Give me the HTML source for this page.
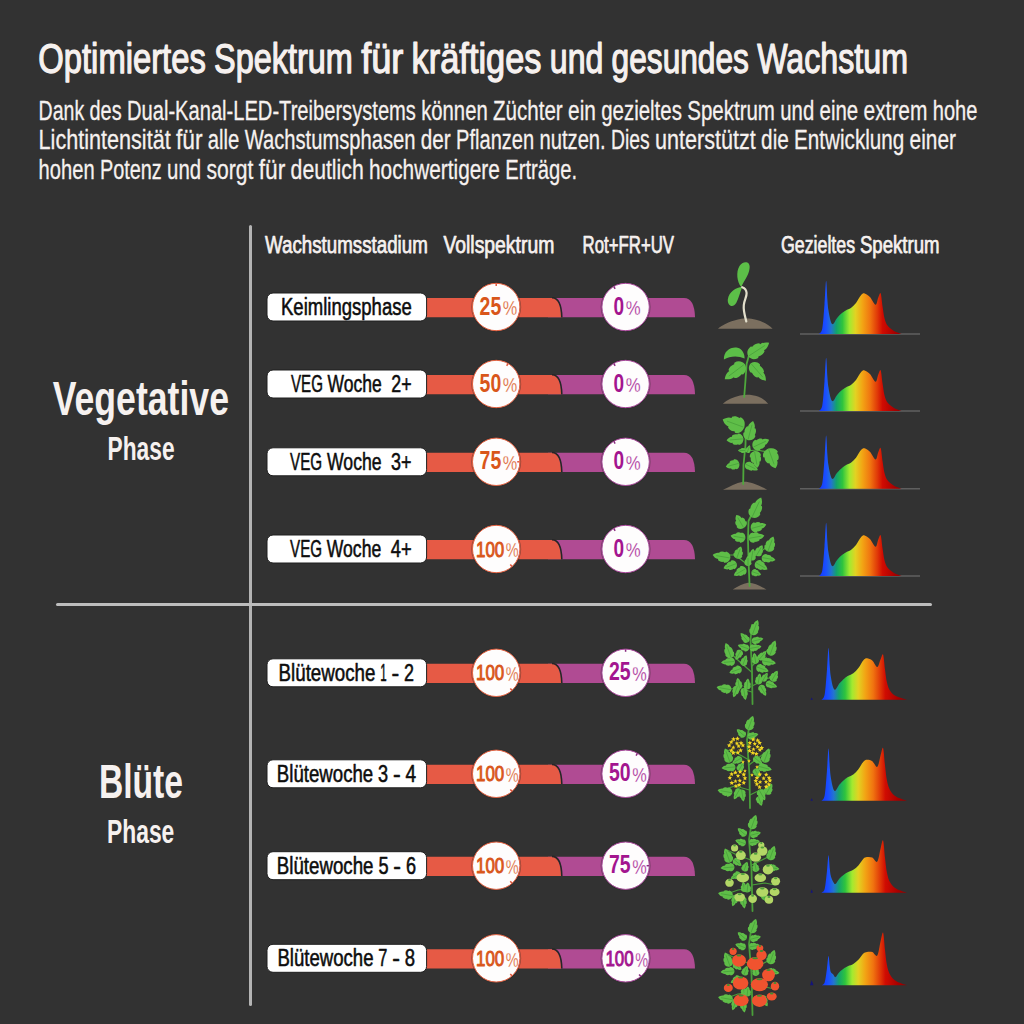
<!DOCTYPE html>
<html lang="de"><head><meta charset="utf-8"><title>Optimiertes Spektrum</title>
<style>
html,body{margin:0;padding:0;background:#323232;}
svg{display:block;font-family:'Liberation Sans', Arial, sans-serif;}
</style></head>
<body>
<svg width="1024" height="1024" viewBox="0 0 1024 1024">
<defs>
<linearGradient id="spec" gradientUnits="userSpaceOnUse" x1="819" y1="0" x2="906" y2="0">
<stop offset="0" stop-color="#1238ff"/>
<stop offset="0.08" stop-color="#1a50ff"/>
<stop offset="0.14" stop-color="#2474d0"/>
<stop offset="0.20" stop-color="#13a36c"/>
<stop offset="0.27" stop-color="#2ec43e"/>
<stop offset="0.35" stop-color="#a2ea30"/>
<stop offset="0.42" stop-color="#e2d222"/>
<stop offset="0.50" stop-color="#f2a414"/>
<stop offset="0.59" stop-color="#f07410"/>
<stop offset="0.67" stop-color="#e03a08"/>
<stop offset="0.73" stop-color="#d00c02"/>
<stop offset="0.87" stop-color="#a80000"/>
<stop offset="1" stop-color="#8a0000"/>
</linearGradient>
<linearGradient id="spec2" gradientUnits="userSpaceOnUse" x1="821.5" y1="0" x2="909" y2="0">
<stop offset="0" stop-color="#1238ff"/>
<stop offset="0.08" stop-color="#1a50ff"/>
<stop offset="0.14" stop-color="#2474d0"/>
<stop offset="0.20" stop-color="#13a36c"/>
<stop offset="0.27" stop-color="#2ec43e"/>
<stop offset="0.35" stop-color="#a2ea30"/>
<stop offset="0.42" stop-color="#e2d222"/>
<stop offset="0.50" stop-color="#f2a414"/>
<stop offset="0.59" stop-color="#f07410"/>
<stop offset="0.67" stop-color="#e03a08"/>
<stop offset="0.73" stop-color="#d00c02"/>
<stop offset="0.87" stop-color="#a80000"/>
<stop offset="1" stop-color="#8a0000"/>
</linearGradient>
</defs>
<rect width="1024" height="1024" fill="#323232"/>
<text x="38.3" y="72.6" font-size="42.01" font-weight="normal" fill="#f6f1ef" stroke="#f6f1ef" stroke-width="1.25" stroke-linejoin="round" textLength="167.5" lengthAdjust="spacingAndGlyphs" >Optimiertes</text>
<text x="214.0" y="72.6" font-size="42.01" font-weight="normal" fill="#f6f1ef" stroke="#f6f1ef" stroke-width="1.25" stroke-linejoin="round" textLength="138.9" lengthAdjust="spacingAndGlyphs" >Spektrum</text>
<text x="361.2" y="72.6" font-size="42.01" font-weight="normal" fill="#f6f1ef" stroke="#f6f1ef" stroke-width="1.25" stroke-linejoin="round" textLength="42.2" lengthAdjust="spacingAndGlyphs" >für</text>
<text x="411.6" y="72.6" font-size="42.01" font-weight="normal" fill="#f6f1ef" stroke="#f6f1ef" stroke-width="1.25" stroke-linejoin="round" textLength="129.9" lengthAdjust="spacingAndGlyphs" >kräftiges</text>
<text x="549.8" y="72.6" font-size="42.01" font-weight="normal" fill="#f6f1ef" stroke="#f6f1ef" stroke-width="1.25" stroke-linejoin="round" textLength="53.5" lengthAdjust="spacingAndGlyphs" >und</text>
<text x="611.6" y="72.6" font-size="42.01" font-weight="normal" fill="#f6f1ef" stroke="#f6f1ef" stroke-width="1.25" stroke-linejoin="round" textLength="137.3" lengthAdjust="spacingAndGlyphs" >gesundes</text>
<text x="757.2" y="72.6" font-size="42.01" font-weight="normal" fill="#f6f1ef" stroke="#f6f1ef" stroke-width="1.25" stroke-linejoin="round" textLength="150.8" lengthAdjust="spacingAndGlyphs" >Wachstum</text>
<text x="38.6" y="119.8" font-size="28.34" font-weight="normal" fill="#f6f1ef" stroke="#f6f1ef" stroke-width="0.3" stroke-linejoin="round" textLength="45.6" lengthAdjust="spacingAndGlyphs" >Dank</text>
<text x="89.5" y="119.8" font-size="28.34" font-weight="normal" fill="#f6f1ef" stroke="#f6f1ef" stroke-width="0.3" stroke-linejoin="round" textLength="32.1" lengthAdjust="spacingAndGlyphs" >des</text>
<text x="127.0" y="119.8" font-size="28.34" font-weight="normal" fill="#f6f1ef" stroke="#f6f1ef" stroke-width="0.3" stroke-linejoin="round" textLength="288.9" lengthAdjust="spacingAndGlyphs" >Dual-Kanal-LED-Treibersystems</text>
<text x="421.2" y="119.8" font-size="28.34" font-weight="normal" fill="#f6f1ef" stroke="#f6f1ef" stroke-width="0.3" stroke-linejoin="round" textLength="66.5" lengthAdjust="spacingAndGlyphs" >können</text>
<text x="493.0" y="119.8" font-size="28.34" font-weight="normal" fill="#f6f1ef" stroke="#f6f1ef" stroke-width="0.3" stroke-linejoin="round" textLength="69.7" lengthAdjust="spacingAndGlyphs" >Züchter</text>
<text x="568.1" y="119.8" font-size="28.34" font-weight="normal" fill="#f6f1ef" stroke="#f6f1ef" stroke-width="0.3" stroke-linejoin="round" textLength="27.8" lengthAdjust="spacingAndGlyphs" >ein</text>
<text x="601.2" y="119.8" font-size="28.34" font-weight="normal" fill="#f6f1ef" stroke="#f6f1ef" stroke-width="0.3" stroke-linejoin="round" textLength="80.7" lengthAdjust="spacingAndGlyphs" >gezieltes</text>
<text x="687.3" y="119.8" font-size="28.34" font-weight="normal" fill="#f6f1ef" stroke="#f6f1ef" stroke-width="0.3" stroke-linejoin="round" textLength="87.6" lengthAdjust="spacingAndGlyphs" >Spektrum</text>
<text x="780.3" y="119.8" font-size="28.34" font-weight="normal" fill="#f6f1ef" stroke="#f6f1ef" stroke-width="0.3" stroke-linejoin="round" textLength="33.9" lengthAdjust="spacingAndGlyphs" >und</text>
<text x="819.6" y="119.8" font-size="28.34" font-weight="normal" fill="#f6f1ef" stroke="#f6f1ef" stroke-width="0.3" stroke-linejoin="round" textLength="38.6" lengthAdjust="spacingAndGlyphs" >eine</text>
<text x="863.5" y="119.8" font-size="28.34" font-weight="normal" fill="#f6f1ef" stroke="#f6f1ef" stroke-width="0.3" stroke-linejoin="round" textLength="63.9" lengthAdjust="spacingAndGlyphs" >extrem</text>
<text x="932.8" y="119.8" font-size="28.34" font-weight="normal" fill="#f6f1ef" stroke="#f6f1ef" stroke-width="0.3" stroke-linejoin="round" textLength="44.6" lengthAdjust="spacingAndGlyphs" >hohe</text>
<text x="38.6" y="149.4" font-size="28.34" font-weight="normal" fill="#f6f1ef" stroke="#f6f1ef" stroke-width="0.3" stroke-linejoin="round" textLength="132.1" lengthAdjust="spacingAndGlyphs" >Lichtintensität</text>
<text x="176.0" y="149.4" font-size="28.34" font-weight="normal" fill="#f6f1ef" stroke="#f6f1ef" stroke-width="0.3" stroke-linejoin="round" textLength="26.5" lengthAdjust="spacingAndGlyphs" >für</text>
<text x="207.8" y="149.4" font-size="28.34" font-weight="normal" fill="#f6f1ef" stroke="#f6f1ef" stroke-width="0.3" stroke-linejoin="round" textLength="31.5" lengthAdjust="spacingAndGlyphs" >alle</text>
<text x="244.7" y="149.4" font-size="28.34" font-weight="normal" fill="#f6f1ef" stroke="#f6f1ef" stroke-width="0.3" stroke-linejoin="round" textLength="170.8" lengthAdjust="spacingAndGlyphs" >Wachstumsphasen</text>
<text x="420.8" y="149.4" font-size="28.34" font-weight="normal" fill="#f6f1ef" stroke="#f6f1ef" stroke-width="0.3" stroke-linejoin="round" textLength="29.9" lengthAdjust="spacingAndGlyphs" >der</text>
<text x="456.1" y="149.4" font-size="28.34" font-weight="normal" fill="#f6f1ef" stroke="#f6f1ef" stroke-width="0.3" stroke-linejoin="round" textLength="78.1" lengthAdjust="spacingAndGlyphs" >Pflanzen</text>
<text x="539.5" y="149.4" font-size="28.34" font-weight="normal" fill="#f6f1ef" stroke="#f6f1ef" stroke-width="0.3" stroke-linejoin="round" textLength="66.2" lengthAdjust="spacingAndGlyphs" >nutzen.</text>
<text x="611.0" y="149.4" font-size="28.34" font-weight="normal" fill="#f6f1ef" stroke="#f6f1ef" stroke-width="0.3" stroke-linejoin="round" textLength="38.7" lengthAdjust="spacingAndGlyphs" >Dies</text>
<text x="655.1" y="149.4" font-size="28.34" font-weight="normal" fill="#f6f1ef" stroke="#f6f1ef" stroke-width="0.3" stroke-linejoin="round" textLength="100.6" lengthAdjust="spacingAndGlyphs" >unterstützt</text>
<text x="761.1" y="149.4" font-size="28.34" font-weight="normal" fill="#f6f1ef" stroke="#f6f1ef" stroke-width="0.3" stroke-linejoin="round" textLength="27.7" lengthAdjust="spacingAndGlyphs" >die</text>
<text x="794.1" y="149.4" font-size="28.34" font-weight="normal" fill="#f6f1ef" stroke="#f6f1ef" stroke-width="0.3" stroke-linejoin="round" textLength="110.2" lengthAdjust="spacingAndGlyphs" >Entwicklung</text>
<text x="909.6" y="149.4" font-size="28.34" font-weight="normal" fill="#f6f1ef" stroke="#f6f1ef" stroke-width="0.3" stroke-linejoin="round" textLength="46.3" lengthAdjust="spacingAndGlyphs" >einer</text>
<text x="38.6" y="178.9" font-size="28.34" font-weight="normal" fill="#f6f1ef" stroke="#f6f1ef" stroke-width="0.3" stroke-linejoin="round" textLength="56.0" lengthAdjust="spacingAndGlyphs" >hohen</text>
<text x="99.9" y="178.9" font-size="28.34" font-weight="normal" fill="#f6f1ef" stroke="#f6f1ef" stroke-width="0.3" stroke-linejoin="round" textLength="61.9" lengthAdjust="spacingAndGlyphs" >Potenz</text>
<text x="167.1" y="178.9" font-size="28.34" font-weight="normal" fill="#f6f1ef" stroke="#f6f1ef" stroke-width="0.3" stroke-linejoin="round" textLength="34.0" lengthAdjust="spacingAndGlyphs" >und</text>
<text x="206.4" y="178.9" font-size="28.34" font-weight="normal" fill="#f6f1ef" stroke="#f6f1ef" stroke-width="0.3" stroke-linejoin="round" textLength="46.9" lengthAdjust="spacingAndGlyphs" >sorgt</text>
<text x="258.7" y="178.9" font-size="28.34" font-weight="normal" fill="#f6f1ef" stroke="#f6f1ef" stroke-width="0.3" stroke-linejoin="round" textLength="26.5" lengthAdjust="spacingAndGlyphs" >für</text>
<text x="290.6" y="178.9" font-size="28.34" font-weight="normal" fill="#f6f1ef" stroke="#f6f1ef" stroke-width="0.3" stroke-linejoin="round" textLength="73.1" lengthAdjust="spacingAndGlyphs" >deutlich</text>
<text x="369.0" y="178.9" font-size="28.34" font-weight="normal" fill="#f6f1ef" stroke="#f6f1ef" stroke-width="0.3" stroke-linejoin="round" textLength="130.9" lengthAdjust="spacingAndGlyphs" >hochwertigere</text>
<text x="505.3" y="178.9" font-size="28.34" font-weight="normal" fill="#f6f1ef" stroke="#f6f1ef" stroke-width="0.3" stroke-linejoin="round" textLength="71.9" lengthAdjust="spacingAndGlyphs" >Erträge.</text>
<text x="265.0" y="252.6" font-size="24.42" font-weight="normal" fill="#f6f1ef" stroke="#f6f1ef" stroke-width="0.75" stroke-linejoin="round" textLength="162.8" lengthAdjust="spacingAndGlyphs" >Wachstumsstadium</text>
<text x="443.4" y="253.0" font-size="24.42" font-weight="normal" fill="#f6f1ef" stroke="#f6f1ef" stroke-width="0.75" stroke-linejoin="round" textLength="110.9" lengthAdjust="spacingAndGlyphs" >Vollspektrum</text>
<text x="582.6" y="253.0" font-size="24.42" font-weight="normal" fill="#f6f1ef" stroke="#f6f1ef" stroke-width="0.75" stroke-linejoin="round" textLength="91.4" lengthAdjust="spacingAndGlyphs" >Rot+FR+UV</text>
<text x="780.9" y="252.6" font-size="24.42" font-weight="normal" fill="#f6f1ef" stroke="#f6f1ef" stroke-width="0.75" stroke-linejoin="round" textLength="74.2" lengthAdjust="spacingAndGlyphs" >Gezieltes</text>
<text x="859.9" y="252.6" font-size="24.42" font-weight="normal" fill="#f6f1ef" stroke="#f6f1ef" stroke-width="0.75" stroke-linejoin="round" textLength="79.7" lengthAdjust="spacingAndGlyphs" >Spektrum</text>
<text x="52.7" y="415.3" font-size="48.26" font-weight="bold" fill="#f6f1ef" textLength="176.3" lengthAdjust="spacingAndGlyphs" >Vegetative</text>
<text x="107.5" y="459.8" font-size="32.56" font-weight="bold" fill="#f6f1ef" textLength="67.1" lengthAdjust="spacingAndGlyphs" >Phase</text>
<text x="98.9" y="797.5" font-size="48.55" font-weight="bold" fill="#f6f1ef" textLength="84.1" lengthAdjust="spacingAndGlyphs" >Blüte</text>
<text x="107.0" y="842.6" font-size="32.41" font-weight="bold" fill="#f6f1ef" textLength="67.3" lengthAdjust="spacingAndGlyphs" >Phase</text>
<rect x="249" y="225" width="3" height="781" rx="1.5" fill="#b4b4b4"/>
<rect x="56" y="603" width="876" height="3" rx="1.5" fill="#bdbdbd"/>
<path d="M548 298.0 H684 Q694.5 298.0 695 317.2 H548 Z" fill="#b04b93"/>
<path d="M420 298.0 H552 Q560.5 298.0 561 317.2 H420 Z" fill="#e65a45"/>
<path d="M552 297.7 Q561.3 297.7 561.8 317.2" fill="none" stroke="#262626" stroke-width="1.6"/>
<rect x="267" y="293.0" width="159.6" height="28" rx="6" fill="#ffffff" stroke="#1e1e1e" stroke-width="1"/>
<text x="281.0" y="315.0" font-size="24.42" font-weight="normal" fill="#0d0d0d" stroke="#0d0d0d" stroke-width="0.55" stroke-linejoin="round" textLength="130.8" lengthAdjust="spacingAndGlyphs" >Keimlingsphase</text>
<circle cx="496.2" cy="307.0" r="25.0" fill="#2a2a2a" opacity="0.4"/>
<circle cx="496.2" cy="307.0" r="23.7" fill="#fefdfd" stroke="#e4603f" stroke-width="1.0"/>
<line x1="496.2" y1="283.5" x2="496.2" y2="286.0" stroke="#e0563c" stroke-width="1.5"/>
<text x="479.6" y="314.6" font-size="26.02" font-weight="bold" fill="#d9561a" textLength="21.6" lengthAdjust="spacingAndGlyphs" >25</text>
<text x="502.8" y="315.2" font-size="20.57" font-weight="normal" fill="#d9561a" stroke="#fdfcfc" stroke-width="0.3" textLength="14.5" lengthAdjust="spacingAndGlyphs">%</text>
<circle cx="625.6" cy="307.0" r="25.0" fill="#2a2a2a" opacity="0.4"/>
<circle cx="625.6" cy="307.0" r="23.7" fill="#fefdfd" stroke="#a8479a" stroke-width="1.0"/>
<line x1="613.9" y1="286.6" x2="615.1" y2="288.8" stroke="#8a2a80" stroke-width="1.5"/>
<text x="613.6" y="314.6" font-size="26.02" font-weight="bold" fill="#a3158f" textLength="10.6" lengthAdjust="spacingAndGlyphs" >0</text>
<text x="625.8" y="315.2" font-size="20.57" font-weight="normal" fill="#a3158f" stroke="#fdfcfc" stroke-width="0.3" textLength="14.9" lengthAdjust="spacingAndGlyphs">%</text>
<path d="M548 375.0 H684 Q694.5 375.0 695 394.2 H548 Z" fill="#b04b93"/>
<path d="M420 375.0 H552 Q560.5 375.0 561 394.2 H420 Z" fill="#e65a45"/>
<path d="M552 374.7 Q561.3 374.7 561.8 394.2" fill="none" stroke="#262626" stroke-width="1.6"/>
<rect x="267" y="370.0" width="159.6" height="28" rx="6" fill="#ffffff" stroke="#1e1e1e" stroke-width="1"/>
<text x="291.0" y="392.0" font-size="24.42" font-weight="normal" fill="#0d0d0d" stroke="#0d0d0d" stroke-width="0.55" stroke-linejoin="round" textLength="31.9" lengthAdjust="spacingAndGlyphs" >VEG</text>
<text x="327.6" y="392.0" font-size="24.42" font-weight="normal" fill="#0d0d0d" stroke="#0d0d0d" stroke-width="0.55" stroke-linejoin="round" textLength="54.2" lengthAdjust="spacingAndGlyphs" >Woche</text>
<text x="391.3" y="392.0" font-size="24.42" font-weight="normal" fill="#0d0d0d" stroke="#0d0d0d" stroke-width="0.55" stroke-linejoin="round" textLength="20.3" lengthAdjust="spacingAndGlyphs" >2+</text>
<circle cx="496.2" cy="384.0" r="25.0" fill="#2a2a2a" opacity="0.4"/>
<circle cx="496.2" cy="384.0" r="23.7" fill="#fefdfd" stroke="#e4603f" stroke-width="1.0"/>
<line x1="507.9" y1="363.6" x2="506.7" y2="365.8" stroke="#e0563c" stroke-width="1.5"/>
<text x="479.6" y="391.6" font-size="26.02" font-weight="bold" fill="#d9561a" textLength="21.6" lengthAdjust="spacingAndGlyphs" >50</text>
<text x="502.8" y="392.2" font-size="20.57" font-weight="normal" fill="#d9561a" stroke="#fdfcfc" stroke-width="0.3" textLength="14.5" lengthAdjust="spacingAndGlyphs">%</text>
<circle cx="625.6" cy="384.0" r="25.0" fill="#2a2a2a" opacity="0.4"/>
<circle cx="625.6" cy="384.0" r="23.7" fill="#fefdfd" stroke="#a8479a" stroke-width="1.0"/>
<line x1="613.9" y1="363.6" x2="615.1" y2="365.8" stroke="#8a2a80" stroke-width="1.5"/>
<text x="613.6" y="391.6" font-size="26.02" font-weight="bold" fill="#a3158f" textLength="10.6" lengthAdjust="spacingAndGlyphs" >0</text>
<text x="625.8" y="392.2" font-size="20.57" font-weight="normal" fill="#a3158f" stroke="#fdfcfc" stroke-width="0.3" textLength="14.9" lengthAdjust="spacingAndGlyphs">%</text>
<path d="M548 452.8 H684 Q694.5 452.8 695 472.0 H548 Z" fill="#b04b93"/>
<path d="M420 452.8 H552 Q560.5 452.8 561 472.0 H420 Z" fill="#e65a45"/>
<path d="M552 452.5 Q561.3 452.5 561.8 472.0" fill="none" stroke="#262626" stroke-width="1.6"/>
<rect x="267" y="447.8" width="159.6" height="28" rx="6" fill="#ffffff" stroke="#1e1e1e" stroke-width="1"/>
<text x="290.1" y="469.8" font-size="24.42" font-weight="normal" fill="#0d0d0d" stroke="#0d0d0d" stroke-width="0.55" stroke-linejoin="round" textLength="32.1" lengthAdjust="spacingAndGlyphs" >VEG</text>
<text x="327.0" y="469.8" font-size="24.42" font-weight="normal" fill="#0d0d0d" stroke="#0d0d0d" stroke-width="0.55" stroke-linejoin="round" textLength="54.6" lengthAdjust="spacingAndGlyphs" >Woche</text>
<text x="391.1" y="469.8" font-size="24.42" font-weight="normal" fill="#0d0d0d" stroke="#0d0d0d" stroke-width="0.55" stroke-linejoin="round" textLength="20.5" lengthAdjust="spacingAndGlyphs" >3+</text>
<circle cx="496.2" cy="461.8" r="25.0" fill="#2a2a2a" opacity="0.4"/>
<circle cx="496.2" cy="461.8" r="23.7" fill="#fefdfd" stroke="#e4603f" stroke-width="1.0"/>
<line x1="519.7" y1="461.8" x2="517.2" y2="461.8" stroke="#e0563c" stroke-width="1.5"/>
<text x="479.6" y="469.4" font-size="26.02" font-weight="bold" fill="#d9561a" textLength="21.6" lengthAdjust="spacingAndGlyphs" >75</text>
<text x="502.8" y="470.0" font-size="20.57" font-weight="normal" fill="#d9561a" stroke="#fdfcfc" stroke-width="0.3" textLength="14.5" lengthAdjust="spacingAndGlyphs">%</text>
<circle cx="625.6" cy="461.8" r="25.0" fill="#2a2a2a" opacity="0.4"/>
<circle cx="625.6" cy="461.8" r="23.7" fill="#fefdfd" stroke="#a8479a" stroke-width="1.0"/>
<line x1="613.9" y1="441.4" x2="615.1" y2="443.6" stroke="#8a2a80" stroke-width="1.5"/>
<text x="613.6" y="469.4" font-size="26.02" font-weight="bold" fill="#a3158f" textLength="10.6" lengthAdjust="spacingAndGlyphs" >0</text>
<text x="625.8" y="470.0" font-size="20.57" font-weight="normal" fill="#a3158f" stroke="#fdfcfc" stroke-width="0.3" textLength="14.9" lengthAdjust="spacingAndGlyphs">%</text>
<path d="M548 540.0 H684 Q694.5 540.0 695 559.2 H548 Z" fill="#b04b93"/>
<path d="M420 540.0 H552 Q560.5 540.0 561 559.2 H420 Z" fill="#e65a45"/>
<path d="M552 539.7 Q561.3 539.7 561.8 559.2" fill="none" stroke="#262626" stroke-width="1.6"/>
<rect x="267" y="535.0" width="159.6" height="28" rx="6" fill="#ffffff" stroke="#1e1e1e" stroke-width="1"/>
<text x="290.1" y="557.0" font-size="24.42" font-weight="normal" fill="#0d0d0d" stroke="#0d0d0d" stroke-width="0.55" stroke-linejoin="round" textLength="32.0" lengthAdjust="spacingAndGlyphs" >VEG</text>
<text x="326.8" y="557.0" font-size="24.42" font-weight="normal" fill="#0d0d0d" stroke="#0d0d0d" stroke-width="0.55" stroke-linejoin="round" textLength="54.4" lengthAdjust="spacingAndGlyphs" >Woche</text>
<text x="390.7" y="557.0" font-size="24.42" font-weight="normal" fill="#0d0d0d" stroke="#0d0d0d" stroke-width="0.55" stroke-linejoin="round" textLength="20.9" lengthAdjust="spacingAndGlyphs" >4+</text>
<circle cx="496.2" cy="549.0" r="25.0" fill="#2a2a2a" opacity="0.4"/>
<circle cx="496.2" cy="549.0" r="23.7" fill="#fefdfd" stroke="#e4603f" stroke-width="1.0"/>
<line x1="511.9" y1="566.5" x2="510.3" y2="564.6" stroke="#e0563c" stroke-width="1.5"/>
<text x="476.0" y="556.6" font-size="22.67" font-weight="normal" fill="#d9561a" stroke="#d9561a" stroke-width="1.0" stroke-linejoin="round" textLength="28.2" lengthAdjust="spacingAndGlyphs" >100</text>
<text x="505.8" y="557.2" font-size="20.57" font-weight="normal" fill="#d9561a" stroke="#fdfcfc" stroke-width="0.3" textLength="12.9" lengthAdjust="spacingAndGlyphs">%</text>
<circle cx="625.6" cy="549.0" r="25.0" fill="#2a2a2a" opacity="0.4"/>
<circle cx="625.6" cy="549.0" r="23.7" fill="#fefdfd" stroke="#a8479a" stroke-width="1.0"/>
<line x1="613.9" y1="528.6" x2="615.1" y2="530.8" stroke="#8a2a80" stroke-width="1.5"/>
<text x="613.6" y="556.6" font-size="26.02" font-weight="bold" fill="#a3158f" textLength="10.6" lengthAdjust="spacingAndGlyphs" >0</text>
<text x="625.8" y="557.2" font-size="20.57" font-weight="normal" fill="#a3158f" stroke="#fdfcfc" stroke-width="0.3" textLength="14.9" lengthAdjust="spacingAndGlyphs">%</text>
<path d="M548 663.8 H684 Q694.5 663.8 695 683.0 H548 Z" fill="#b04b93"/>
<path d="M420 663.8 H552 Q560.5 663.8 561 683.0 H420 Z" fill="#e65a45"/>
<path d="M552 663.5 Q561.3 663.5 561.8 683.0" fill="none" stroke="#262626" stroke-width="1.6"/>
<rect x="267" y="658.8" width="159.6" height="28" rx="6" fill="#ffffff" stroke="#1e1e1e" stroke-width="1"/>
<text x="278.6" y="680.8" font-size="24.42" font-weight="normal" fill="#0d0d0d" stroke="#0d0d0d" stroke-width="0.55" stroke-linejoin="round" textLength="96.8" lengthAdjust="spacingAndGlyphs" >Blütewoche</text>
<text x="380.2" y="680.8" font-size="24.42" font-weight="normal" fill="#0d0d0d" stroke="#0d0d0d" stroke-width="0.55" stroke-linejoin="round" textLength="6.4" lengthAdjust="spacingAndGlyphs" >1</text>
<text x="391.4" y="680.8" font-size="24.42" font-weight="normal" fill="#0d0d0d" stroke="#0d0d0d" stroke-width="0.55" stroke-linejoin="round" textLength="7.7" lengthAdjust="spacingAndGlyphs" >-</text>
<text x="404.0" y="680.8" font-size="24.42" font-weight="normal" fill="#0d0d0d" stroke="#0d0d0d" stroke-width="0.55" stroke-linejoin="round" textLength="10.0" lengthAdjust="spacingAndGlyphs" >2</text>
<circle cx="496.2" cy="672.8" r="25.0" fill="#2a2a2a" opacity="0.4"/>
<circle cx="496.2" cy="672.8" r="23.7" fill="#fefdfd" stroke="#e4603f" stroke-width="1.0"/>
<line x1="511.9" y1="690.3" x2="510.3" y2="688.4" stroke="#e0563c" stroke-width="1.5"/>
<text x="476.0" y="680.4" font-size="22.67" font-weight="normal" fill="#d9561a" stroke="#d9561a" stroke-width="1.0" stroke-linejoin="round" textLength="28.2" lengthAdjust="spacingAndGlyphs" >100</text>
<text x="505.8" y="681.0" font-size="20.57" font-weight="normal" fill="#d9561a" stroke="#fdfcfc" stroke-width="0.3" textLength="12.9" lengthAdjust="spacingAndGlyphs">%</text>
<circle cx="625.6" cy="672.8" r="25.0" fill="#2a2a2a" opacity="0.4"/>
<circle cx="625.6" cy="672.8" r="23.7" fill="#fefdfd" stroke="#a8479a" stroke-width="1.0"/>
<line x1="625.6" y1="649.3" x2="625.6" y2="651.8" stroke="#8a2a80" stroke-width="1.5"/>
<text x="609.0" y="680.4" font-size="26.02" font-weight="bold" fill="#a3158f" textLength="21.6" lengthAdjust="spacingAndGlyphs" >25</text>
<text x="632.2" y="681.0" font-size="20.57" font-weight="normal" fill="#a3158f" stroke="#fdfcfc" stroke-width="0.3" textLength="14.5" lengthAdjust="spacingAndGlyphs">%</text>
<path d="M548 764.8 H684 Q694.5 764.8 695 784.0 H548 Z" fill="#b04b93"/>
<path d="M420 764.8 H552 Q560.5 764.8 561 784.0 H420 Z" fill="#e65a45"/>
<path d="M552 764.5 Q561.3 764.5 561.8 784.0" fill="none" stroke="#262626" stroke-width="1.6"/>
<rect x="267" y="759.8" width="159.6" height="28" rx="6" fill="#ffffff" stroke="#1e1e1e" stroke-width="1"/>
<text x="276.8" y="781.8" font-size="24.42" font-weight="normal" fill="#0d0d0d" stroke="#0d0d0d" stroke-width="0.55" stroke-linejoin="round" textLength="96.4" lengthAdjust="spacingAndGlyphs" >Blütewoche</text>
<text x="378.1" y="781.8" font-size="24.42" font-weight="normal" fill="#0d0d0d" stroke="#0d0d0d" stroke-width="0.55" stroke-linejoin="round" textLength="10.1" lengthAdjust="spacingAndGlyphs" >3</text>
<text x="392.9" y="781.8" font-size="24.42" font-weight="normal" fill="#0d0d0d" stroke="#0d0d0d" stroke-width="0.55" stroke-linejoin="round" textLength="7.7" lengthAdjust="spacingAndGlyphs" >-</text>
<text x="405.4" y="781.8" font-size="24.42" font-weight="normal" fill="#0d0d0d" stroke="#0d0d0d" stroke-width="0.55" stroke-linejoin="round" textLength="10.6" lengthAdjust="spacingAndGlyphs" >4</text>
<circle cx="496.2" cy="773.8" r="25.0" fill="#2a2a2a" opacity="0.4"/>
<circle cx="496.2" cy="773.8" r="23.7" fill="#fefdfd" stroke="#e4603f" stroke-width="1.0"/>
<line x1="511.9" y1="791.3" x2="510.3" y2="789.4" stroke="#e0563c" stroke-width="1.5"/>
<text x="476.0" y="781.4" font-size="22.67" font-weight="normal" fill="#d9561a" stroke="#d9561a" stroke-width="1.0" stroke-linejoin="round" textLength="28.2" lengthAdjust="spacingAndGlyphs" >100</text>
<text x="505.8" y="782.0" font-size="20.57" font-weight="normal" fill="#d9561a" stroke="#fdfcfc" stroke-width="0.3" textLength="12.9" lengthAdjust="spacingAndGlyphs">%</text>
<circle cx="625.6" cy="773.8" r="25.0" fill="#2a2a2a" opacity="0.4"/>
<circle cx="625.6" cy="773.8" r="23.7" fill="#fefdfd" stroke="#a8479a" stroke-width="1.0"/>
<line x1="637.4" y1="753.4" x2="636.1" y2="755.6" stroke="#8a2a80" stroke-width="1.5"/>
<text x="609.0" y="781.4" font-size="26.02" font-weight="bold" fill="#a3158f" textLength="21.6" lengthAdjust="spacingAndGlyphs" >50</text>
<text x="632.2" y="782.0" font-size="20.57" font-weight="normal" fill="#a3158f" stroke="#fdfcfc" stroke-width="0.3" textLength="14.5" lengthAdjust="spacingAndGlyphs">%</text>
<path d="M548 856.7 H684 Q694.5 856.7 695 875.9 H548 Z" fill="#b04b93"/>
<path d="M420 856.7 H552 Q560.5 856.7 561 875.9 H420 Z" fill="#e65a45"/>
<path d="M552 856.4 Q561.3 856.4 561.8 875.9" fill="none" stroke="#262626" stroke-width="1.6"/>
<rect x="267" y="851.7" width="159.6" height="28" rx="6" fill="#ffffff" stroke="#1e1e1e" stroke-width="1"/>
<text x="276.8" y="873.7" font-size="24.42" font-weight="normal" fill="#0d0d0d" stroke="#0d0d0d" stroke-width="0.55" stroke-linejoin="round" textLength="96.7" lengthAdjust="spacingAndGlyphs" >Blütewoche</text>
<text x="378.4" y="873.7" font-size="24.42" font-weight="normal" fill="#0d0d0d" stroke="#0d0d0d" stroke-width="0.55" stroke-linejoin="round" textLength="10.1" lengthAdjust="spacingAndGlyphs" >5</text>
<text x="393.3" y="873.7" font-size="24.42" font-weight="normal" fill="#0d0d0d" stroke="#0d0d0d" stroke-width="0.55" stroke-linejoin="round" textLength="7.7" lengthAdjust="spacingAndGlyphs" >-</text>
<text x="405.9" y="873.7" font-size="24.42" font-weight="normal" fill="#0d0d0d" stroke="#0d0d0d" stroke-width="0.55" stroke-linejoin="round" textLength="10.1" lengthAdjust="spacingAndGlyphs" >6</text>
<circle cx="496.2" cy="865.7" r="25.0" fill="#2a2a2a" opacity="0.4"/>
<circle cx="496.2" cy="865.7" r="23.7" fill="#fefdfd" stroke="#e4603f" stroke-width="1.0"/>
<line x1="511.9" y1="883.2" x2="510.3" y2="881.3" stroke="#e0563c" stroke-width="1.5"/>
<text x="476.0" y="873.3" font-size="22.67" font-weight="normal" fill="#d9561a" stroke="#d9561a" stroke-width="1.0" stroke-linejoin="round" textLength="28.2" lengthAdjust="spacingAndGlyphs" >100</text>
<text x="505.8" y="873.9" font-size="20.57" font-weight="normal" fill="#d9561a" stroke="#fdfcfc" stroke-width="0.3" textLength="12.9" lengthAdjust="spacingAndGlyphs">%</text>
<circle cx="625.6" cy="865.7" r="25.0" fill="#2a2a2a" opacity="0.4"/>
<circle cx="625.6" cy="865.7" r="23.7" fill="#fefdfd" stroke="#a8479a" stroke-width="1.0"/>
<line x1="649.1" y1="865.7" x2="646.6" y2="865.7" stroke="#8a2a80" stroke-width="1.5"/>
<text x="609.0" y="873.3" font-size="26.02" font-weight="bold" fill="#a3158f" textLength="21.6" lengthAdjust="spacingAndGlyphs" >75</text>
<text x="632.2" y="873.9" font-size="20.57" font-weight="normal" fill="#a3158f" stroke="#fdfcfc" stroke-width="0.3" textLength="14.5" lengthAdjust="spacingAndGlyphs">%</text>
<path d="M548 949.3 H684 Q694.5 949.3 695 968.5 H548 Z" fill="#b04b93"/>
<path d="M420 949.3 H552 Q560.5 949.3 561 968.5 H420 Z" fill="#e65a45"/>
<path d="M552 949.0 Q561.3 949.0 561.8 968.5" fill="none" stroke="#262626" stroke-width="1.6"/>
<rect x="267" y="944.3" width="159.6" height="28" rx="6" fill="#ffffff" stroke="#1e1e1e" stroke-width="1"/>
<text x="277.4" y="966.3" font-size="24.42" font-weight="normal" fill="#0d0d0d" stroke="#0d0d0d" stroke-width="0.55" stroke-linejoin="round" textLength="96.1" lengthAdjust="spacingAndGlyphs" >Blütewoche</text>
<text x="378.3" y="966.3" font-size="24.42" font-weight="normal" fill="#0d0d0d" stroke="#0d0d0d" stroke-width="0.55" stroke-linejoin="round" textLength="9.1" lengthAdjust="spacingAndGlyphs" >7</text>
<text x="392.3" y="966.3" font-size="24.42" font-weight="normal" fill="#0d0d0d" stroke="#0d0d0d" stroke-width="0.55" stroke-linejoin="round" textLength="7.7" lengthAdjust="spacingAndGlyphs" >-</text>
<text x="404.7" y="966.3" font-size="24.42" font-weight="normal" fill="#0d0d0d" stroke="#0d0d0d" stroke-width="0.55" stroke-linejoin="round" textLength="10.3" lengthAdjust="spacingAndGlyphs" >8</text>
<circle cx="496.2" cy="958.3" r="25.0" fill="#2a2a2a" opacity="0.4"/>
<circle cx="496.2" cy="958.3" r="23.7" fill="#fefdfd" stroke="#e4603f" stroke-width="1.0"/>
<line x1="511.9" y1="975.8" x2="510.3" y2="973.9" stroke="#e0563c" stroke-width="1.5"/>
<text x="476.0" y="965.9" font-size="22.67" font-weight="normal" fill="#d9561a" stroke="#d9561a" stroke-width="1.0" stroke-linejoin="round" textLength="28.2" lengthAdjust="spacingAndGlyphs" >100</text>
<text x="505.8" y="966.5" font-size="20.57" font-weight="normal" fill="#d9561a" stroke="#fdfcfc" stroke-width="0.3" textLength="12.9" lengthAdjust="spacingAndGlyphs">%</text>
<circle cx="625.6" cy="958.3" r="25.0" fill="#2a2a2a" opacity="0.4"/>
<circle cx="625.6" cy="958.3" r="23.7" fill="#fefdfd" stroke="#a8479a" stroke-width="1.0"/>
<line x1="640.7" y1="976.3" x2="639.1" y2="974.4" stroke="#8a2a80" stroke-width="1.5"/>
<text x="605.4" y="965.9" font-size="22.67" font-weight="normal" fill="#a3158f" stroke="#a3158f" stroke-width="1.0" stroke-linejoin="round" textLength="28.2" lengthAdjust="spacingAndGlyphs" >100</text>
<text x="635.2" y="966.5" font-size="20.57" font-weight="normal" fill="#a3158f" stroke="#fdfcfc" stroke-width="0.3" textLength="12.9" lengthAdjust="spacingAndGlyphs">%</text>
<rect x="800" y="333.4" width="120" height="1.2" fill="#6c6c6c"/>
<path d="M819.10 334.00 C819.63 333.05 821.40 333.27 822.30 328.30 C823.20 323.32 823.87 312.08 824.50 304.15 C825.13 296.22 825.62 281.41 826.10 280.70 C826.58 279.99 827.02 295.00 827.40 299.89 C827.78 304.77 827.85 306.46 828.40 310.01 C828.95 313.57 829.92 318.87 830.70 321.21 C831.48 323.55 832.07 324.56 833.10 324.05 C834.13 323.55 835.42 319.99 836.90 318.17 C838.38 316.34 840.52 314.38 842.00 313.09 C843.48 311.81 844.32 311.30 845.80 310.45 C847.28 309.61 849.20 309.27 850.90 308.02 C852.60 306.76 854.32 305.06 856.00 302.94 C857.68 300.82 859.57 296.90 861.00 295.31 C862.43 293.72 863.12 293.11 864.60 293.40 C866.08 293.69 868.07 295.17 869.90 297.07 C871.73 298.97 874.22 304.69 875.60 304.80 C876.98 304.91 877.35 299.63 878.20 297.73 C879.05 295.83 879.97 291.90 880.70 293.40 C881.43 294.90 881.97 302.58 882.60 306.72 C883.23 310.85 883.65 315.03 884.50 318.21 C885.35 321.39 886.12 323.68 887.70 325.80 C889.28 327.92 891.68 329.55 894.00 330.91 C896.32 332.28 900.33 333.49 901.60 334.00 Z" fill="url(#spec)" />
<rect x="800" y="410.4" width="120" height="1.2" fill="#6c6c6c"/>
<path d="M819.10 411.00 C819.63 410.05 821.40 410.27 822.30 405.30 C823.20 400.32 823.87 389.08 824.50 381.15 C825.13 373.22 825.62 358.41 826.10 357.70 C826.58 356.99 827.02 372.00 827.40 376.89 C827.78 381.77 827.85 383.46 828.40 387.01 C828.95 390.57 829.92 395.87 830.70 398.21 C831.48 400.55 832.07 401.56 833.10 401.05 C834.13 400.55 835.42 396.99 836.90 395.17 C838.38 393.34 840.52 391.38 842.00 390.09 C843.48 388.81 844.32 388.30 845.80 387.45 C847.28 386.61 849.20 386.27 850.90 385.02 C852.60 383.76 854.32 382.06 856.00 379.94 C857.68 377.82 859.57 373.90 861.00 372.31 C862.43 370.72 863.12 370.11 864.60 370.40 C866.08 370.69 868.07 372.17 869.90 374.07 C871.73 375.97 874.22 381.69 875.60 381.80 C876.98 381.91 877.35 376.63 878.20 374.73 C879.05 372.83 879.97 368.90 880.70 370.40 C881.43 371.90 881.97 379.58 882.60 383.72 C883.23 387.85 883.65 392.03 884.50 395.21 C885.35 398.39 886.12 400.68 887.70 402.80 C889.28 404.92 891.68 406.55 894.00 407.91 C896.32 409.28 900.33 410.49 901.60 411.00 Z" fill="url(#spec)" />
<rect x="800" y="488.2" width="120" height="1.2" fill="#6c6c6c"/>
<path d="M819.10 488.80 C819.63 487.85 821.40 488.07 822.30 483.10 C823.20 478.12 823.87 466.88 824.50 458.95 C825.13 451.02 825.62 436.21 826.10 435.50 C826.58 434.79 827.02 449.80 827.40 454.69 C827.78 459.57 827.85 461.26 828.40 464.81 C828.95 468.37 829.92 473.67 830.70 476.01 C831.48 478.35 832.07 479.36 833.10 478.85 C834.13 478.35 835.42 474.79 836.90 472.97 C838.38 471.14 840.52 469.18 842.00 467.89 C843.48 466.61 844.32 466.10 845.80 465.25 C847.28 464.41 849.20 464.07 850.90 462.82 C852.60 461.56 854.32 459.86 856.00 457.74 C857.68 455.62 859.57 451.70 861.00 450.11 C862.43 448.52 863.12 447.91 864.60 448.20 C866.08 448.49 868.07 449.97 869.90 451.87 C871.73 453.77 874.22 459.49 875.60 459.60 C876.98 459.71 877.35 454.43 878.20 452.53 C879.05 450.63 879.97 446.70 880.70 448.20 C881.43 449.70 881.97 457.38 882.60 461.52 C883.23 465.65 883.65 469.83 884.50 473.01 C885.35 476.19 886.12 478.48 887.70 480.60 C889.28 482.72 891.68 484.35 894.00 485.71 C896.32 487.08 900.33 488.29 901.60 488.80 Z" fill="url(#spec)" />
<rect x="800" y="575.4" width="120" height="1.2" fill="#6c6c6c"/>
<path d="M819.10 576.00 C819.63 575.05 821.40 575.27 822.30 570.30 C823.20 565.32 823.87 554.08 824.50 546.15 C825.13 538.22 825.62 523.41 826.10 522.70 C826.58 521.99 827.02 537.00 827.40 541.89 C827.78 546.77 827.85 548.46 828.40 552.01 C828.95 555.57 829.92 560.87 830.70 563.21 C831.48 565.55 832.07 566.56 833.10 566.05 C834.13 565.55 835.42 561.99 836.90 560.17 C838.38 558.34 840.52 556.38 842.00 555.09 C843.48 553.81 844.32 553.30 845.80 552.45 C847.28 551.61 849.20 551.27 850.90 550.02 C852.60 548.76 854.32 547.06 856.00 544.94 C857.68 542.82 859.57 538.90 861.00 537.31 C862.43 535.72 863.12 535.11 864.60 535.40 C866.08 535.69 868.07 537.17 869.90 539.07 C871.73 540.97 874.22 546.69 875.60 546.80 C876.98 546.91 877.35 541.63 878.20 539.73 C879.05 537.83 879.97 533.90 880.70 535.40 C881.43 536.90 881.97 544.58 882.60 548.72 C883.23 552.85 883.65 557.03 884.50 560.21 C885.35 563.39 886.12 565.68 887.70 567.80 C889.28 569.92 891.68 571.55 894.00 572.91 C896.32 574.28 900.33 575.49 901.60 576.00 Z" fill="url(#spec)" />
<path d="M821.50 699.80 C822.03 698.88 823.80 699.09 824.70 694.26 C825.60 689.42 826.27 678.50 826.90 670.79 C827.53 663.08 828.02 648.69 828.50 648.00 C828.98 647.31 829.42 661.90 829.80 666.65 C830.18 671.40 830.25 673.04 830.80 676.49 C831.35 679.94 832.32 685.18 833.10 687.37 C833.88 689.55 834.47 690.24 835.50 689.61 C836.53 688.98 837.82 685.45 839.30 683.58 C840.78 681.70 842.92 679.69 844.40 678.38 C845.88 677.06 846.72 676.54 848.20 675.67 C849.68 674.81 851.60 674.46 853.30 673.18 C855.00 671.89 856.72 670.15 858.40 667.98 C860.08 665.81 861.97 661.78 863.40 660.16 C864.83 658.53 865.52 658.14 867.00 658.20 C868.48 658.26 870.58 659.05 872.30 660.52 C874.02 661.99 875.92 667.20 877.30 667.00 C878.68 666.80 879.63 661.38 880.60 659.31 C881.57 657.25 882.37 652.91 883.10 654.60 C883.83 656.29 884.37 664.82 885.00 669.43 C885.63 674.03 886.05 678.68 886.90 682.22 C887.75 685.76 888.52 688.31 890.10 690.67 C891.68 693.03 893.58 694.84 896.40 696.36 C899.22 697.89 905.23 699.23 907.00 699.80 Z" fill="url(#spec2)" />
<path d="M810.5 699.8 L811.7 697.6 L812.9 699.8 Z" fill="#14147a"/>
<path d="M821.50 800.80 C822.03 799.87 823.80 800.08 824.70 795.19 C825.60 790.30 826.27 779.25 826.90 771.46 C827.53 763.66 828.02 749.10 828.50 748.40 C828.98 747.70 829.42 762.46 829.80 767.26 C830.18 772.07 830.25 773.73 830.80 777.22 C831.35 780.71 832.32 785.97 833.10 788.22 C833.88 790.48 834.47 791.31 835.50 790.73 C836.53 790.15 837.82 786.62 839.30 784.77 C840.78 782.92 842.92 780.93 844.40 779.63 C845.88 778.33 846.72 777.82 848.20 776.96 C849.68 776.11 851.60 775.76 853.30 774.50 C855.00 773.23 856.72 771.50 858.40 769.36 C860.08 767.21 861.97 763.24 863.40 761.63 C864.83 760.02 865.52 759.77 867.00 759.70 C868.48 759.63 870.58 760.01 872.30 761.19 C874.02 762.38 875.92 767.81 877.30 766.80 C878.68 765.79 879.63 758.28 880.60 755.14 C881.57 752.01 882.37 746.30 883.10 748.00 C883.83 749.70 884.37 759.94 885.00 765.32 C885.63 770.70 886.05 776.12 886.90 780.26 C887.75 784.40 888.52 787.38 890.10 790.13 C891.68 792.89 893.58 795.01 896.40 796.79 C899.22 798.56 905.23 800.13 907.00 800.80 Z" fill="url(#spec2)" />
<path d="M810.5 800.8 L811.7 798.2 L812.9 800.8 Z" fill="#14147a"/>
<path d="M821.50 892.70 C822.03 892.03 823.80 892.19 824.70 888.69 C825.60 885.19 826.27 877.28 826.90 871.70 C827.53 866.12 828.02 855.70 828.50 855.20 C828.98 854.70 829.42 865.26 829.80 868.70 C830.18 872.14 830.25 873.66 830.80 875.83 C831.35 877.99 832.32 880.35 833.10 881.70 C833.88 883.05 834.47 884.44 835.50 883.95 C836.53 883.47 837.82 880.38 839.30 878.78 C840.78 877.17 842.92 875.45 844.40 874.31 C845.88 873.18 846.72 872.74 848.20 871.99 C849.68 871.25 851.60 870.95 853.30 869.85 C855.00 868.75 856.72 867.25 858.40 865.39 C860.08 863.53 861.97 860.08 863.40 858.68 C864.83 857.28 865.52 857.19 867.00 857.00 C868.48 856.81 870.58 856.75 872.30 857.52 C874.02 858.28 875.92 863.09 877.30 861.60 C878.68 860.11 879.63 852.08 880.60 848.58 C881.57 845.08 882.37 839.08 883.10 840.60 C883.83 842.12 884.37 852.38 885.00 857.69 C885.63 862.99 886.05 868.35 886.90 872.43 C887.75 876.51 888.52 879.46 890.10 882.18 C891.68 884.89 893.58 886.99 896.40 888.74 C899.22 890.49 905.23 892.04 907.00 892.70 Z" fill="url(#spec2)" />
<path d="M810.5 892.7 L811.7 889.2 L812.9 892.7 Z" fill="#14147a"/>
<path d="M821.50 985.30 C822.03 984.78 823.80 984.90 824.70 982.16 C825.60 979.43 826.27 973.25 826.90 968.89 C827.53 964.53 828.02 956.39 828.50 956.00 C828.98 955.61 829.42 963.86 829.80 966.55 C830.18 969.23 830.25 970.82 830.80 972.12 C831.35 973.41 832.32 973.47 833.10 974.30 C833.88 975.13 834.47 977.45 835.50 977.12 C836.53 976.78 837.82 973.78 839.30 972.27 C840.78 970.77 842.92 969.16 844.40 968.10 C845.88 967.04 846.72 966.62 848.20 965.93 C849.68 965.23 851.60 964.95 853.30 963.92 C855.00 962.89 856.72 961.49 858.40 959.75 C860.08 958.01 861.97 954.78 863.40 953.47 C864.83 952.16 865.52 952.14 867.00 951.90 C868.48 951.66 870.58 951.43 872.30 952.03 C874.02 952.63 875.92 957.29 877.30 955.50 C878.68 953.71 879.63 945.12 880.60 941.30 C881.57 937.49 882.37 931.17 883.10 932.60 C883.83 934.03 884.37 944.52 885.00 949.89 C885.63 955.25 886.05 960.67 886.90 964.80 C887.75 968.93 888.52 971.91 890.10 974.65 C891.68 977.40 893.58 979.52 896.40 981.29 C899.22 983.07 905.23 984.63 907.00 985.30 Z" fill="url(#spec2)" />
<path d="M810.0 985.3 L811.7 980.3 L813.5 985.3 Z" fill="#14147a"/>
<path d="M718 328.7 C722 325 730 321.5 737 319.8 C742 318.2 750 318 756 319.8 C764 322 769 325 772.6 328.7 Z" fill="#7b6f5f"/>
<path d="M741.2 287 C737 282 735.8 272 739.5 266 C742.5 261 750.5 260.5 749.6 268 C749 275 744.5 280 741.2 287 Z" fill="#5cbf48"/>
<path d="M742.2 287 C736 287.5 729 291.5 727.8 299.5 C727.3 306 733 308.5 736.2 303 C739 298 740 292 742.2 287 Z" fill="#5cbf48"/>
<path d="M746.3 321.5 C745 316 743.2 311 743.8 305 C744.3 300 746.8 297 746.6 293 C746.4 290 744.5 288 742.2 287.2" fill="none" stroke="#e3dfcc" stroke-width="2.2" stroke-linecap="round"/>
<path d="M722.8 403.8 C727 400 733 397 740 395.5 C746 394 752 394.5 758 396.5 C763 398.5 766 401 768.2 403.8 Z" fill="#7b6f5f"/>
<path d="M744.2 397.0 L745.5 380.0 L746.6 364.0 L748.8 356.0" fill="none" stroke="#4ea83c" stroke-width="1.8" stroke-linecap="round" stroke-linejoin="round"/>
<path d="M723.9 359.5 C723.5 351 731 346.5 737.5 347.8 C742.5 349 744.8 354 744.6 358.6 C738 355.5 730 356 723.9 359.5 Z" fill="#5cbf48"/>
<g transform="translate(748.2 356.3) rotate(-33.0) scale(25.0 13.0)"><path d="M0 0 C0.02 -0.3 0.12 -0.5 0.3 -0.52 L0.34 -0.44 C0.48 -0.52 0.6 -0.45 0.66 -0.36 L0.66 -0.28 C0.8 -0.3 0.92 -0.14 1 0 C0.92 0.14 0.8 0.3 0.66 0.28 L0.66 0.36 C0.6 0.45 0.48 0.52 0.34 0.44 L0.3 0.52 C0.12 0.5 0.02 0.3 0 0 Z" fill="#5fbe48"/><path d="M0.04 0 L0.8 0" stroke="#3f9535" stroke-width="0.6" vector-effect="non-scaling-stroke" fill="none"/></g>
<g transform="translate(744.7 364.1) rotate(143.0) scale(25.0 14.0)"><path d="M0 0 C0.02 -0.3 0.12 -0.5 0.3 -0.52 L0.34 -0.44 C0.48 -0.52 0.6 -0.45 0.66 -0.36 L0.66 -0.28 C0.8 -0.3 0.92 -0.14 1 0 C0.92 0.14 0.8 0.3 0.66 0.28 L0.66 0.36 C0.6 0.45 0.48 0.52 0.34 0.44 L0.3 0.52 C0.12 0.5 0.02 0.3 0 0 Z" fill="#5fbe48"/><path d="M0.04 0 L0.8 0" stroke="#3f9535" stroke-width="0.6" vector-effect="non-scaling-stroke" fill="none"/></g>
<g transform="translate(750.8 363.3) rotate(49.0) scale(23.0 12.0)"><path d="M0 0 C0.02 -0.3 0.12 -0.5 0.3 -0.52 L0.34 -0.44 C0.48 -0.52 0.6 -0.45 0.66 -0.36 L0.66 -0.28 C0.8 -0.3 0.92 -0.14 1 0 C0.92 0.14 0.8 0.3 0.66 0.28 L0.66 0.36 C0.6 0.45 0.48 0.52 0.34 0.44 L0.3 0.52 C0.12 0.5 0.02 0.3 0 0 Z" fill="#5fbe48"/><path d="M0.04 0 L0.8 0" stroke="#3f9535" stroke-width="0.6" vector-effect="non-scaling-stroke" fill="none"/></g>
<path d="M723.0 489.8 C729.6 486.8 736.2 482.7 742.8 481.7 C749.5 481.2 758.3 484.7 767.1 489.8 Z" fill="#7b6f5f"/>
<path d="M743.2 484.0 L743.5 465.0 L745.5 445.0 L745.7 430.0" fill="none" stroke="#4ea83c" stroke-width="1.8" stroke-linecap="round" stroke-linejoin="round"/>
<path d="M745.0 451.0 L757.0 450.0 L768.0 452.0" fill="none" stroke="#4ea83c" stroke-width="1.2" stroke-linecap="round" stroke-linejoin="round"/>
<g transform="translate(744.3 427.4) rotate(-160.0) scale(23.0 16.0)"><path d="M0 0 C0.02 -0.3 0.12 -0.5 0.3 -0.52 L0.34 -0.44 C0.48 -0.52 0.6 -0.45 0.66 -0.36 L0.66 -0.28 C0.8 -0.3 0.92 -0.14 1 0 C0.92 0.14 0.8 0.3 0.66 0.28 L0.66 0.36 C0.6 0.45 0.48 0.52 0.34 0.44 L0.3 0.52 C0.12 0.5 0.02 0.3 0 0 Z" fill="#5fbe48"/><path d="M0.04 0 L0.8 0" stroke="#3f9535" stroke-width="0.6" vector-effect="non-scaling-stroke" fill="none"/></g>
<g transform="translate(747.9 440.2) rotate(-75.0) scale(20.0 12.0)"><path d="M0 0 C0.02 -0.3 0.12 -0.5 0.3 -0.52 L0.34 -0.44 C0.48 -0.52 0.6 -0.45 0.66 -0.36 L0.66 -0.28 C0.8 -0.3 0.92 -0.14 1 0 C0.92 0.14 0.8 0.3 0.66 0.28 L0.66 0.36 C0.6 0.45 0.48 0.52 0.34 0.44 L0.3 0.52 C0.12 0.5 0.02 0.3 0 0 Z" fill="#5fbe48"/><path d="M0.04 0 L0.8 0" stroke="#3f9535" stroke-width="0.6" vector-effect="non-scaling-stroke" fill="none"/></g>
<g transform="translate(743.5 438.8) rotate(175.0) scale(17.0 11.0)"><path d="M0 0 C0.02 -0.3 0.12 -0.5 0.3 -0.52 L0.34 -0.44 C0.48 -0.52 0.6 -0.45 0.66 -0.36 L0.66 -0.28 C0.8 -0.3 0.92 -0.14 1 0 C0.92 0.14 0.8 0.3 0.66 0.28 L0.66 0.36 C0.6 0.45 0.48 0.52 0.34 0.44 L0.3 0.52 C0.12 0.5 0.02 0.3 0 0 Z" fill="#5fbe48"/><path d="M0.04 0 L0.8 0" stroke="#3f9535" stroke-width="0.6" vector-effect="non-scaling-stroke" fill="none"/></g>
<g transform="translate(752.8 447.3) rotate(-25.0) scale(18.0 11.0)"><path d="M0 0 C0.02 -0.3 0.12 -0.5 0.3 -0.52 L0.34 -0.44 C0.48 -0.52 0.6 -0.45 0.66 -0.36 L0.66 -0.28 C0.8 -0.3 0.92 -0.14 1 0 C0.92 0.14 0.8 0.3 0.66 0.28 L0.66 0.36 C0.6 0.45 0.48 0.52 0.34 0.44 L0.3 0.52 C0.12 0.5 0.02 0.3 0 0 Z" fill="#5fbe48"/><path d="M0.04 0 L0.8 0" stroke="#3f9535" stroke-width="0.6" vector-effect="non-scaling-stroke" fill="none"/></g>
<g transform="translate(746.0 450.5) rotate(180.0) scale(8.0 5.0)"><path d="M0 0 C0.02 -0.3 0.12 -0.5 0.3 -0.52 L0.34 -0.44 C0.48 -0.52 0.6 -0.45 0.66 -0.36 L0.66 -0.28 C0.8 -0.3 0.92 -0.14 1 0 C0.92 0.14 0.8 0.3 0.66 0.28 L0.66 0.36 C0.6 0.45 0.48 0.52 0.34 0.44 L0.3 0.52 C0.12 0.5 0.02 0.3 0 0 Z" fill="#5fbe48"/><path d="M0.04 0 L0.8 0" stroke="#3f9535" stroke-width="0.6" vector-effect="non-scaling-stroke" fill="none"/></g>
<g transform="translate(747.1 452.8) rotate(-70.0) scale(8.0 5.0)"><path d="M0 0 C0.02 -0.3 0.12 -0.5 0.3 -0.52 L0.34 -0.44 C0.48 -0.52 0.6 -0.45 0.66 -0.36 L0.66 -0.28 C0.8 -0.3 0.92 -0.14 1 0 C0.92 0.14 0.8 0.3 0.66 0.28 L0.66 0.36 C0.6 0.45 0.48 0.52 0.34 0.44 L0.3 0.52 C0.12 0.5 0.02 0.3 0 0 Z" fill="#5fbe48"/><path d="M0.04 0 L0.8 0" stroke="#3f9535" stroke-width="0.6" vector-effect="non-scaling-stroke" fill="none"/></g>
<g transform="translate(754.5 451.1) rotate(80.0) scale(17.0 11.0)"><path d="M0 0 C0.02 -0.3 0.12 -0.5 0.3 -0.52 L0.34 -0.44 C0.48 -0.52 0.6 -0.45 0.66 -0.36 L0.66 -0.28 C0.8 -0.3 0.92 -0.14 1 0 C0.92 0.14 0.8 0.3 0.66 0.28 L0.66 0.36 C0.6 0.45 0.48 0.52 0.34 0.44 L0.3 0.52 C0.12 0.5 0.02 0.3 0 0 Z" fill="#5fbe48"/><path d="M0.04 0 L0.8 0" stroke="#3f9535" stroke-width="0.6" vector-effect="non-scaling-stroke" fill="none"/></g>
<g transform="translate(768.4 448.6) rotate(70.0) scale(21.0 15.0)"><path d="M0 0 C0.02 -0.3 0.12 -0.5 0.3 -0.52 L0.34 -0.44 C0.48 -0.52 0.6 -0.45 0.66 -0.36 L0.66 -0.28 C0.8 -0.3 0.92 -0.14 1 0 C0.92 0.14 0.8 0.3 0.66 0.28 L0.66 0.36 C0.6 0.45 0.48 0.52 0.34 0.44 L0.3 0.52 C0.12 0.5 0.02 0.3 0 0 Z" fill="#5fbe48"/><path d="M0.04 0 L0.8 0" stroke="#3f9535" stroke-width="0.6" vector-effect="non-scaling-stroke" fill="none"/></g>
<g transform="translate(739.3 463.2) rotate(165.0) scale(14.0 10.0)"><path d="M0 0 C0.02 -0.3 0.12 -0.5 0.3 -0.52 L0.34 -0.44 C0.48 -0.52 0.6 -0.45 0.66 -0.36 L0.66 -0.28 C0.8 -0.3 0.92 -0.14 1 0 C0.92 0.14 0.8 0.3 0.66 0.28 L0.66 0.36 C0.6 0.45 0.48 0.52 0.34 0.44 L0.3 0.52 C0.12 0.5 0.02 0.3 0 0 Z" fill="#5fbe48"/><path d="M0.04 0 L0.8 0" stroke="#3f9535" stroke-width="0.6" vector-effect="non-scaling-stroke" fill="none"/></g>
<g transform="translate(745.2 464.0) rotate(25.0) scale(14.0 8.0)"><path d="M0 0 C0.02 -0.3 0.12 -0.5 0.3 -0.52 L0.34 -0.44 C0.48 -0.52 0.6 -0.45 0.66 -0.36 L0.66 -0.28 C0.8 -0.3 0.92 -0.14 1 0 C0.92 0.14 0.8 0.3 0.66 0.28 L0.66 0.36 C0.6 0.45 0.48 0.52 0.34 0.44 L0.3 0.52 C0.12 0.5 0.02 0.3 0 0 Z" fill="#5fbe48"/><path d="M0.04 0 L0.8 0" stroke="#3f9535" stroke-width="0.6" vector-effect="non-scaling-stroke" fill="none"/></g>
<path d="M732.7 589.5 C737.8 586.5 742.8 583.8 747.9 582.8 C753.0 582.3 759.7 585.8 766.5 589.5 Z" fill="#7b6f5f"/>
<path d="M749.6 586.0 L748.5 560.0 L748.0 540.0 L748.5 521.0 L754.0 510.0" fill="none" stroke="#4ea83c" stroke-width="1.8" stroke-linecap="round" stroke-linejoin="round"/>
<path d="M748.0 565.0 L735.0 555.0 L722.0 555.0" fill="none" stroke="#4ea83c" stroke-width="1.2" stroke-linecap="round" stroke-linejoin="round"/>
<path d="M749.0 560.0 L760.0 552.0 L770.0 545.0" fill="none" stroke="#4ea83c" stroke-width="1.2" stroke-linecap="round" stroke-linejoin="round"/>
<g transform="translate(751.9 517.5) rotate(-65.0) scale(22.0 12.0)"><path d="M0 0 C0.02 -0.3 0.12 -0.5 0.3 -0.52 L0.34 -0.44 C0.48 -0.52 0.6 -0.45 0.66 -0.36 L0.66 -0.28 C0.8 -0.3 0.92 -0.14 1 0 C0.92 0.14 0.8 0.3 0.66 0.28 L0.66 0.36 C0.6 0.45 0.48 0.52 0.34 0.44 L0.3 0.52 C0.12 0.5 0.02 0.3 0 0 Z" fill="#5fbe48"/><path d="M0.04 0 L0.8 0" stroke="#3f9535" stroke-width="0.6" vector-effect="non-scaling-stroke" fill="none"/></g>
<g transform="translate(743.8 528.0) rotate(-120.0) scale(15.0 11.0)"><path d="M0 0 C0.02 -0.3 0.12 -0.5 0.3 -0.52 L0.34 -0.44 C0.48 -0.52 0.6 -0.45 0.66 -0.36 L0.66 -0.28 C0.8 -0.3 0.92 -0.14 1 0 C0.92 0.14 0.8 0.3 0.66 0.28 L0.66 0.36 C0.6 0.45 0.48 0.52 0.34 0.44 L0.3 0.52 C0.12 0.5 0.02 0.3 0 0 Z" fill="#5fbe48"/><path d="M0.04 0 L0.8 0" stroke="#3f9535" stroke-width="0.6" vector-effect="non-scaling-stroke" fill="none"/></g>
<g transform="translate(750.8 528.6) rotate(-15.0) scale(16.0 10.0)"><path d="M0 0 C0.02 -0.3 0.12 -0.5 0.3 -0.52 L0.34 -0.44 C0.48 -0.52 0.6 -0.45 0.66 -0.36 L0.66 -0.28 C0.8 -0.3 0.92 -0.14 1 0 C0.92 0.14 0.8 0.3 0.66 0.28 L0.66 0.36 C0.6 0.45 0.48 0.52 0.34 0.44 L0.3 0.52 C0.12 0.5 0.02 0.3 0 0 Z" fill="#5fbe48"/><path d="M0.04 0 L0.8 0" stroke="#3f9535" stroke-width="0.6" vector-effect="non-scaling-stroke" fill="none"/></g>
<g transform="translate(745.4 538.3) rotate(190.0) scale(15.0 10.0)"><path d="M0 0 C0.02 -0.3 0.12 -0.5 0.3 -0.52 L0.34 -0.44 C0.48 -0.52 0.6 -0.45 0.66 -0.36 L0.66 -0.28 C0.8 -0.3 0.92 -0.14 1 0 C0.92 0.14 0.8 0.3 0.66 0.28 L0.66 0.36 C0.6 0.45 0.48 0.52 0.34 0.44 L0.3 0.52 C0.12 0.5 0.02 0.3 0 0 Z" fill="#5fbe48"/><path d="M0.04 0 L0.8 0" stroke="#3f9535" stroke-width="0.6" vector-effect="non-scaling-stroke" fill="none"/></g>
<g transform="translate(748.6 538.4) rotate(-10.0) scale(16.0 10.0)"><path d="M0 0 C0.02 -0.3 0.12 -0.5 0.3 -0.52 L0.34 -0.44 C0.48 -0.52 0.6 -0.45 0.66 -0.36 L0.66 -0.28 C0.8 -0.3 0.92 -0.14 1 0 C0.92 0.14 0.8 0.3 0.66 0.28 L0.66 0.36 C0.6 0.45 0.48 0.52 0.34 0.44 L0.3 0.52 C0.12 0.5 0.02 0.3 0 0 Z" fill="#5fbe48"/><path d="M0.04 0 L0.8 0" stroke="#3f9535" stroke-width="0.6" vector-effect="non-scaling-stroke" fill="none"/></g>
<g transform="translate(767.8 551.5) rotate(-70.0) scale(16.0 10.0)"><path d="M0 0 C0.02 -0.3 0.12 -0.5 0.3 -0.52 L0.34 -0.44 C0.48 -0.52 0.6 -0.45 0.66 -0.36 L0.66 -0.28 C0.8 -0.3 0.92 -0.14 1 0 C0.92 0.14 0.8 0.3 0.66 0.28 L0.66 0.36 C0.6 0.45 0.48 0.52 0.34 0.44 L0.3 0.52 C0.12 0.5 0.02 0.3 0 0 Z" fill="#5fbe48"/><path d="M0.04 0 L0.8 0" stroke="#3f9535" stroke-width="0.6" vector-effect="non-scaling-stroke" fill="none"/></g>
<g transform="translate(730.4 558.1) rotate(190.0) scale(18.0 11.0)"><path d="M0 0 C0.02 -0.3 0.12 -0.5 0.3 -0.52 L0.34 -0.44 C0.48 -0.52 0.6 -0.45 0.66 -0.36 L0.66 -0.28 C0.8 -0.3 0.92 -0.14 1 0 C0.92 0.14 0.8 0.3 0.66 0.28 L0.66 0.36 C0.6 0.45 0.48 0.52 0.34 0.44 L0.3 0.52 C0.12 0.5 0.02 0.3 0 0 Z" fill="#5fbe48"/><path d="M0.04 0 L0.8 0" stroke="#3f9535" stroke-width="0.6" vector-effect="non-scaling-stroke" fill="none"/></g>
<g transform="translate(736.6 558.6) rotate(-70.0) scale(13.0 9.0)"><path d="M0 0 C0.02 -0.3 0.12 -0.5 0.3 -0.52 L0.34 -0.44 C0.48 -0.52 0.6 -0.45 0.66 -0.36 L0.66 -0.28 C0.8 -0.3 0.92 -0.14 1 0 C0.92 0.14 0.8 0.3 0.66 0.28 L0.66 0.36 C0.6 0.45 0.48 0.52 0.34 0.44 L0.3 0.52 C0.12 0.5 0.02 0.3 0 0 Z" fill="#5fbe48"/><path d="M0.04 0 L0.8 0" stroke="#3f9535" stroke-width="0.6" vector-effect="non-scaling-stroke" fill="none"/></g>
<g transform="translate(751.2 560.5) rotate(-80.0) scale(12.0 8.0)"><path d="M0 0 C0.02 -0.3 0.12 -0.5 0.3 -0.52 L0.34 -0.44 C0.48 -0.52 0.6 -0.45 0.66 -0.36 L0.66 -0.28 C0.8 -0.3 0.92 -0.14 1 0 C0.92 0.14 0.8 0.3 0.66 0.28 L0.66 0.36 C0.6 0.45 0.48 0.52 0.34 0.44 L0.3 0.52 C0.12 0.5 0.02 0.3 0 0 Z" fill="#5fbe48"/><path d="M0.04 0 L0.8 0" stroke="#3f9535" stroke-width="0.6" vector-effect="non-scaling-stroke" fill="none"/></g>
<g transform="translate(756.4 555.7) rotate(-60.0) scale(12.0 8.0)"><path d="M0 0 C0.02 -0.3 0.12 -0.5 0.3 -0.52 L0.34 -0.44 C0.48 -0.52 0.6 -0.45 0.66 -0.36 L0.66 -0.28 C0.8 -0.3 0.92 -0.14 1 0 C0.92 0.14 0.8 0.3 0.66 0.28 L0.66 0.36 C0.6 0.45 0.48 0.52 0.34 0.44 L0.3 0.52 C0.12 0.5 0.02 0.3 0 0 Z" fill="#5fbe48"/><path d="M0.04 0 L0.8 0" stroke="#3f9535" stroke-width="0.6" vector-effect="non-scaling-stroke" fill="none"/></g>
<g transform="translate(761.7 557.5) rotate(10.0) scale(14.0 8.0)"><path d="M0 0 C0.02 -0.3 0.12 -0.5 0.3 -0.52 L0.34 -0.44 C0.48 -0.52 0.6 -0.45 0.66 -0.36 L0.66 -0.28 C0.8 -0.3 0.92 -0.14 1 0 C0.92 0.14 0.8 0.3 0.66 0.28 L0.66 0.36 C0.6 0.45 0.48 0.52 0.34 0.44 L0.3 0.52 C0.12 0.5 0.02 0.3 0 0 Z" fill="#5fbe48"/><path d="M0.04 0 L0.8 0" stroke="#3f9535" stroke-width="0.6" vector-effect="non-scaling-stroke" fill="none"/></g>
<g transform="translate(736.7 563.5) rotate(160.0) scale(14.0 9.0)"><path d="M0 0 C0.02 -0.3 0.12 -0.5 0.3 -0.52 L0.34 -0.44 C0.48 -0.52 0.6 -0.45 0.66 -0.36 L0.66 -0.28 C0.8 -0.3 0.92 -0.14 1 0 C0.92 0.14 0.8 0.3 0.66 0.28 L0.66 0.36 C0.6 0.45 0.48 0.52 0.34 0.44 L0.3 0.52 C0.12 0.5 0.02 0.3 0 0 Z" fill="#5fbe48"/><path d="M0.04 0 L0.8 0" stroke="#3f9535" stroke-width="0.6" vector-effect="non-scaling-stroke" fill="none"/></g>
<g transform="translate(748.0 566.0) rotate(-90.0) scale(10.0 7.0)"><path d="M0 0 C0.02 -0.3 0.12 -0.5 0.3 -0.52 L0.34 -0.44 C0.48 -0.52 0.6 -0.45 0.66 -0.36 L0.66 -0.28 C0.8 -0.3 0.92 -0.14 1 0 C0.92 0.14 0.8 0.3 0.66 0.28 L0.66 0.36 C0.6 0.45 0.48 0.52 0.34 0.44 L0.3 0.52 C0.12 0.5 0.02 0.3 0 0 Z" fill="#5fbe48"/><path d="M0.04 0 L0.8 0" stroke="#3f9535" stroke-width="0.6" vector-effect="non-scaling-stroke" fill="none"/></g>
<g transform="translate(755.3 562.4) rotate(30.0) scale(14.0 9.0)"><path d="M0 0 C0.02 -0.3 0.12 -0.5 0.3 -0.52 L0.34 -0.44 C0.48 -0.52 0.6 -0.45 0.66 -0.36 L0.66 -0.28 C0.8 -0.3 0.92 -0.14 1 0 C0.92 0.14 0.8 0.3 0.66 0.28 L0.66 0.36 C0.6 0.45 0.48 0.52 0.34 0.44 L0.3 0.52 C0.12 0.5 0.02 0.3 0 0 Z" fill="#5fbe48"/><path d="M0.04 0 L0.8 0" stroke="#3f9535" stroke-width="0.6" vector-effect="non-scaling-stroke" fill="none"/></g>
<g transform="translate(746.0 568.5) rotate(150.0) scale(14.0 9.0)"><path d="M0 0 C0.02 -0.3 0.12 -0.5 0.3 -0.52 L0.34 -0.44 C0.48 -0.52 0.6 -0.45 0.66 -0.36 L0.66 -0.28 C0.8 -0.3 0.92 -0.14 1 0 C0.92 0.14 0.8 0.3 0.66 0.28 L0.66 0.36 C0.6 0.45 0.48 0.52 0.34 0.44 L0.3 0.52 C0.12 0.5 0.02 0.3 0 0 Z" fill="#5fbe48"/><path d="M0.04 0 L0.8 0" stroke="#3f9535" stroke-width="0.6" vector-effect="non-scaling-stroke" fill="none"/></g>
<g transform="translate(751.6 571.4) rotate(20.0) scale(10.0 7.0)"><path d="M0 0 C0.02 -0.3 0.12 -0.5 0.3 -0.52 L0.34 -0.44 C0.48 -0.52 0.6 -0.45 0.66 -0.36 L0.66 -0.28 C0.8 -0.3 0.92 -0.14 1 0 C0.92 0.14 0.8 0.3 0.66 0.28 L0.66 0.36 C0.6 0.45 0.48 0.52 0.34 0.44 L0.3 0.52 C0.12 0.5 0.02 0.3 0 0 Z" fill="#5fbe48"/><path d="M0.04 0 L0.8 0" stroke="#3f9535" stroke-width="0.6" vector-effect="non-scaling-stroke" fill="none"/></g>
<path d="M752.5 704.0 L752.0 670.0 L750.5 640.0 L752.0 625.0" fill="none" stroke="#4a9e3a" stroke-width="1.8" stroke-linecap="round" stroke-linejoin="round"/>
<path d="M751.5 672.0 L740.0 662.0 L727.0 650.0" fill="none" stroke="#4a9e3a" stroke-width="1.2" stroke-linecap="round" stroke-linejoin="round"/>
<path d="M752.0 666.0 L762.0 656.0 L772.0 645.0" fill="none" stroke="#4a9e3a" stroke-width="1.2" stroke-linecap="round" stroke-linejoin="round"/>
<path d="M752.0 692.0 L738.0 688.0 L722.0 690.0" fill="none" stroke="#4a9e3a" stroke-width="1.2" stroke-linecap="round" stroke-linejoin="round"/>
<path d="M752.0 686.0 L764.0 680.0 L774.0 676.0" fill="none" stroke="#4a9e3a" stroke-width="1.2" stroke-linecap="round" stroke-linejoin="round"/>
<g transform="translate(752.3 635.0) rotate(-70.0) scale(16.0 9.0)"><path d="M0 0 C0.02 -0.3 0.12 -0.5 0.3 -0.52 L0.34 -0.44 C0.48 -0.52 0.6 -0.45 0.66 -0.36 L0.66 -0.28 C0.8 -0.3 0.92 -0.14 1 0 C0.92 0.14 0.8 0.3 0.66 0.28 L0.66 0.36 C0.6 0.45 0.48 0.52 0.34 0.44 L0.3 0.52 C0.12 0.5 0.02 0.3 0 0 Z" fill="#5fbe48"/><path d="M0.04 0 L0.8 0" stroke="#3f9535" stroke-width="0.6" vector-effect="non-scaling-stroke" fill="none"/></g>
<g transform="translate(748.4 642.1) rotate(-130.0) scale(12.0 7.0)"><path d="M0 0 C0.02 -0.3 0.12 -0.5 0.3 -0.52 L0.34 -0.44 C0.48 -0.52 0.6 -0.45 0.66 -0.36 L0.66 -0.28 C0.8 -0.3 0.92 -0.14 1 0 C0.92 0.14 0.8 0.3 0.66 0.28 L0.66 0.36 C0.6 0.45 0.48 0.52 0.34 0.44 L0.3 0.52 C0.12 0.5 0.02 0.3 0 0 Z" fill="#5fbe48"/><path d="M0.04 0 L0.8 0" stroke="#3f9535" stroke-width="0.6" vector-effect="non-scaling-stroke" fill="none"/></g>
<g transform="translate(751.7 641.6) rotate(-15.0) scale(12.0 7.0)"><path d="M0 0 C0.02 -0.3 0.12 -0.5 0.3 -0.52 L0.34 -0.44 C0.48 -0.52 0.6 -0.45 0.66 -0.36 L0.66 -0.28 C0.8 -0.3 0.92 -0.14 1 0 C0.92 0.14 0.8 0.3 0.66 0.28 L0.66 0.36 C0.6 0.45 0.48 0.52 0.34 0.44 L0.3 0.52 C0.12 0.5 0.02 0.3 0 0 Z" fill="#5fbe48"/><path d="M0.04 0 L0.8 0" stroke="#3f9535" stroke-width="0.6" vector-effect="non-scaling-stroke" fill="none"/></g>
<g transform="translate(749.1 649.1) rotate(-160.0) scale(12.0 7.0)"><path d="M0 0 C0.02 -0.3 0.12 -0.5 0.3 -0.52 L0.34 -0.44 C0.48 -0.52 0.6 -0.45 0.66 -0.36 L0.66 -0.28 C0.8 -0.3 0.92 -0.14 1 0 C0.92 0.14 0.8 0.3 0.66 0.28 L0.66 0.36 C0.6 0.45 0.48 0.52 0.34 0.44 L0.3 0.52 C0.12 0.5 0.02 0.3 0 0 Z" fill="#5fbe48"/><path d="M0.04 0 L0.8 0" stroke="#3f9535" stroke-width="0.6" vector-effect="non-scaling-stroke" fill="none"/></g>
<g transform="translate(749.6 648.5) rotate(-10.0) scale(12.0 7.0)"><path d="M0 0 C0.02 -0.3 0.12 -0.5 0.3 -0.52 L0.34 -0.44 C0.48 -0.52 0.6 -0.45 0.66 -0.36 L0.66 -0.28 C0.8 -0.3 0.92 -0.14 1 0 C0.92 0.14 0.8 0.3 0.66 0.28 L0.66 0.36 C0.6 0.45 0.48 0.52 0.34 0.44 L0.3 0.52 C0.12 0.5 0.02 0.3 0 0 Z" fill="#5fbe48"/><path d="M0.04 0 L0.8 0" stroke="#3f9535" stroke-width="0.6" vector-effect="non-scaling-stroke" fill="none"/></g>
<g transform="translate(731.2 658.0) rotate(-110.0) scale(16.0 9.0)"><path d="M0 0 C0.02 -0.3 0.12 -0.5 0.3 -0.52 L0.34 -0.44 C0.48 -0.52 0.6 -0.45 0.66 -0.36 L0.66 -0.28 C0.8 -0.3 0.92 -0.14 1 0 C0.92 0.14 0.8 0.3 0.66 0.28 L0.66 0.36 C0.6 0.45 0.48 0.52 0.34 0.44 L0.3 0.52 C0.12 0.5 0.02 0.3 0 0 Z" fill="#5fbe48"/><path d="M0.04 0 L0.8 0" stroke="#3f9535" stroke-width="0.6" vector-effect="non-scaling-stroke" fill="none"/></g>
<g transform="translate(769.8 655.5) rotate(-70.0) scale(16.0 9.0)"><path d="M0 0 C0.02 -0.3 0.12 -0.5 0.3 -0.52 L0.34 -0.44 C0.48 -0.52 0.6 -0.45 0.66 -0.36 L0.66 -0.28 C0.8 -0.3 0.92 -0.14 1 0 C0.92 0.14 0.8 0.3 0.66 0.28 L0.66 0.36 C0.6 0.45 0.48 0.52 0.34 0.44 L0.3 0.52 C0.12 0.5 0.02 0.3 0 0 Z" fill="#5fbe48"/><path d="M0.04 0 L0.8 0" stroke="#3f9535" stroke-width="0.6" vector-effect="non-scaling-stroke" fill="none"/></g>
<g transform="translate(741.2 650.2) rotate(120.0) scale(11.0 7.0)"><path d="M0 0 C0.02 -0.3 0.12 -0.5 0.3 -0.52 L0.34 -0.44 C0.48 -0.52 0.6 -0.45 0.66 -0.36 L0.66 -0.28 C0.8 -0.3 0.92 -0.14 1 0 C0.92 0.14 0.8 0.3 0.66 0.28 L0.66 0.36 C0.6 0.45 0.48 0.52 0.34 0.44 L0.3 0.52 C0.12 0.5 0.02 0.3 0 0 Z" fill="#5fbe48"/><path d="M0.04 0 L0.8 0" stroke="#3f9535" stroke-width="0.6" vector-effect="non-scaling-stroke" fill="none"/></g>
<g transform="translate(742.6 665.7) rotate(-70.0) scale(11.0 7.0)"><path d="M0 0 C0.02 -0.3 0.12 -0.5 0.3 -0.52 L0.34 -0.44 C0.48 -0.52 0.6 -0.45 0.66 -0.36 L0.66 -0.28 C0.8 -0.3 0.92 -0.14 1 0 C0.92 0.14 0.8 0.3 0.66 0.28 L0.66 0.36 C0.6 0.45 0.48 0.52 0.34 0.44 L0.3 0.52 C0.12 0.5 0.02 0.3 0 0 Z" fill="#5fbe48"/><path d="M0.04 0 L0.8 0" stroke="#3f9535" stroke-width="0.6" vector-effect="non-scaling-stroke" fill="none"/></g>
<g transform="translate(756.0 663.9) rotate(-100.0) scale(11.0 7.0)"><path d="M0 0 C0.02 -0.3 0.12 -0.5 0.3 -0.52 L0.34 -0.44 C0.48 -0.52 0.6 -0.45 0.66 -0.36 L0.66 -0.28 C0.8 -0.3 0.92 -0.14 1 0 C0.92 0.14 0.8 0.3 0.66 0.28 L0.66 0.36 C0.6 0.45 0.48 0.52 0.34 0.44 L0.3 0.52 C0.12 0.5 0.02 0.3 0 0 Z" fill="#5fbe48"/><path d="M0.04 0 L0.8 0" stroke="#3f9535" stroke-width="0.6" vector-effect="non-scaling-stroke" fill="none"/></g>
<g transform="translate(759.0 659.7) rotate(-50.0) scale(11.0 7.0)"><path d="M0 0 C0.02 -0.3 0.12 -0.5 0.3 -0.52 L0.34 -0.44 C0.48 -0.52 0.6 -0.45 0.66 -0.36 L0.66 -0.28 C0.8 -0.3 0.92 -0.14 1 0 C0.92 0.14 0.8 0.3 0.66 0.28 L0.66 0.36 C0.6 0.45 0.48 0.52 0.34 0.44 L0.3 0.52 C0.12 0.5 0.02 0.3 0 0 Z" fill="#5fbe48"/><path d="M0.04 0 L0.8 0" stroke="#3f9535" stroke-width="0.6" vector-effect="non-scaling-stroke" fill="none"/></g>
<g transform="translate(735.0 661.4) rotate(175.0) scale(14.0 8.0)"><path d="M0 0 C0.02 -0.3 0.12 -0.5 0.3 -0.52 L0.34 -0.44 C0.48 -0.52 0.6 -0.45 0.66 -0.36 L0.66 -0.28 C0.8 -0.3 0.92 -0.14 1 0 C0.92 0.14 0.8 0.3 0.66 0.28 L0.66 0.36 C0.6 0.45 0.48 0.52 0.34 0.44 L0.3 0.52 C0.12 0.5 0.02 0.3 0 0 Z" fill="#5fbe48"/><path d="M0.04 0 L0.8 0" stroke="#3f9535" stroke-width="0.6" vector-effect="non-scaling-stroke" fill="none"/></g>
<g transform="translate(762.1 660.8) rotate(10.0) scale(14.0 8.0)"><path d="M0 0 C0.02 -0.3 0.12 -0.5 0.3 -0.52 L0.34 -0.44 C0.48 -0.52 0.6 -0.45 0.66 -0.36 L0.66 -0.28 C0.8 -0.3 0.92 -0.14 1 0 C0.92 0.14 0.8 0.3 0.66 0.28 L0.66 0.36 C0.6 0.45 0.48 0.52 0.34 0.44 L0.3 0.52 C0.12 0.5 0.02 0.3 0 0 Z" fill="#5fbe48"/><path d="M0.04 0 L0.8 0" stroke="#3f9535" stroke-width="0.6" vector-effect="non-scaling-stroke" fill="none"/></g>
<g transform="translate(741.6 668.3) rotate(160.0) scale(13.0 8.0)"><path d="M0 0 C0.02 -0.3 0.12 -0.5 0.3 -0.52 L0.34 -0.44 C0.48 -0.52 0.6 -0.45 0.66 -0.36 L0.66 -0.28 C0.8 -0.3 0.92 -0.14 1 0 C0.92 0.14 0.8 0.3 0.66 0.28 L0.66 0.36 C0.6 0.45 0.48 0.52 0.34 0.44 L0.3 0.52 C0.12 0.5 0.02 0.3 0 0 Z" fill="#5fbe48"/><path d="M0.04 0 L0.8 0" stroke="#3f9535" stroke-width="0.6" vector-effect="non-scaling-stroke" fill="none"/></g>
<g transform="translate(756.4 666.8) rotate(20.0) scale(13.0 8.0)"><path d="M0 0 C0.02 -0.3 0.12 -0.5 0.3 -0.52 L0.34 -0.44 C0.48 -0.52 0.6 -0.45 0.66 -0.36 L0.66 -0.28 C0.8 -0.3 0.92 -0.14 1 0 C0.92 0.14 0.8 0.3 0.66 0.28 L0.66 0.36 C0.6 0.45 0.48 0.52 0.34 0.44 L0.3 0.52 C0.12 0.5 0.02 0.3 0 0 Z" fill="#5fbe48"/><path d="M0.04 0 L0.8 0" stroke="#3f9535" stroke-width="0.6" vector-effect="non-scaling-stroke" fill="none"/></g>
<g transform="translate(739.5 688.9) rotate(-100.0) scale(11.0 7.0)"><path d="M0 0 C0.02 -0.3 0.12 -0.5 0.3 -0.52 L0.34 -0.44 C0.48 -0.52 0.6 -0.45 0.66 -0.36 L0.66 -0.28 C0.8 -0.3 0.92 -0.14 1 0 C0.92 0.14 0.8 0.3 0.66 0.28 L0.66 0.36 C0.6 0.45 0.48 0.52 0.34 0.44 L0.3 0.52 C0.12 0.5 0.02 0.3 0 0 Z" fill="#5fbe48"/><path d="M0.04 0 L0.8 0" stroke="#3f9535" stroke-width="0.6" vector-effect="non-scaling-stroke" fill="none"/></g>
<g transform="translate(747.0 689.5) rotate(-85.0) scale(11.0 7.0)"><path d="M0 0 C0.02 -0.3 0.12 -0.5 0.3 -0.52 L0.34 -0.44 C0.48 -0.52 0.6 -0.45 0.66 -0.36 L0.66 -0.28 C0.8 -0.3 0.92 -0.14 1 0 C0.92 0.14 0.8 0.3 0.66 0.28 L0.66 0.36 C0.6 0.45 0.48 0.52 0.34 0.44 L0.3 0.52 C0.12 0.5 0.02 0.3 0 0 Z" fill="#5fbe48"/><path d="M0.04 0 L0.8 0" stroke="#3f9535" stroke-width="0.6" vector-effect="non-scaling-stroke" fill="none"/></g>
<g transform="translate(758.0 684.4) rotate(-80.0) scale(11.0 7.0)"><path d="M0 0 C0.02 -0.3 0.12 -0.5 0.3 -0.52 L0.34 -0.44 C0.48 -0.52 0.6 -0.45 0.66 -0.36 L0.66 -0.28 C0.8 -0.3 0.92 -0.14 1 0 C0.92 0.14 0.8 0.3 0.66 0.28 L0.66 0.36 C0.6 0.45 0.48 0.52 0.34 0.44 L0.3 0.52 C0.12 0.5 0.02 0.3 0 0 Z" fill="#5fbe48"/><path d="M0.04 0 L0.8 0" stroke="#3f9535" stroke-width="0.6" vector-effect="non-scaling-stroke" fill="none"/></g>
<g transform="translate(762.5 681.3) rotate(-60.0) scale(10.0 6.0)"><path d="M0 0 C0.02 -0.3 0.12 -0.5 0.3 -0.52 L0.34 -0.44 C0.48 -0.52 0.6 -0.45 0.66 -0.36 L0.66 -0.28 C0.8 -0.3 0.92 -0.14 1 0 C0.92 0.14 0.8 0.3 0.66 0.28 L0.66 0.36 C0.6 0.45 0.48 0.52 0.34 0.44 L0.3 0.52 C0.12 0.5 0.02 0.3 0 0 Z" fill="#5fbe48"/><path d="M0.04 0 L0.8 0" stroke="#3f9535" stroke-width="0.6" vector-effect="non-scaling-stroke" fill="none"/></g>
<g transform="translate(771.5 681.2) rotate(-60.0) scale(12.0 8.0)"><path d="M0 0 C0.02 -0.3 0.12 -0.5 0.3 -0.52 L0.34 -0.44 C0.48 -0.52 0.6 -0.45 0.66 -0.36 L0.66 -0.28 C0.8 -0.3 0.92 -0.14 1 0 C0.92 0.14 0.8 0.3 0.66 0.28 L0.66 0.36 C0.6 0.45 0.48 0.52 0.34 0.44 L0.3 0.52 C0.12 0.5 0.02 0.3 0 0 Z" fill="#5fbe48"/><path d="M0.04 0 L0.8 0" stroke="#3f9535" stroke-width="0.6" vector-effect="non-scaling-stroke" fill="none"/></g>
<g transform="translate(765.9 682.9) rotate(20.0) scale(12.0 7.0)"><path d="M0 0 C0.02 -0.3 0.12 -0.5 0.3 -0.52 L0.34 -0.44 C0.48 -0.52 0.6 -0.45 0.66 -0.36 L0.66 -0.28 C0.8 -0.3 0.92 -0.14 1 0 C0.92 0.14 0.8 0.3 0.66 0.28 L0.66 0.36 C0.6 0.45 0.48 0.52 0.34 0.44 L0.3 0.52 C0.12 0.5 0.02 0.3 0 0 Z" fill="#5fbe48"/><path d="M0.04 0 L0.8 0" stroke="#3f9535" stroke-width="0.6" vector-effect="non-scaling-stroke" fill="none"/></g>
<g transform="translate(731.4 689.8) rotate(190.0) scale(15.0 9.0)"><path d="M0 0 C0.02 -0.3 0.12 -0.5 0.3 -0.52 L0.34 -0.44 C0.48 -0.52 0.6 -0.45 0.66 -0.36 L0.66 -0.28 C0.8 -0.3 0.92 -0.14 1 0 C0.92 0.14 0.8 0.3 0.66 0.28 L0.66 0.36 C0.6 0.45 0.48 0.52 0.34 0.44 L0.3 0.52 C0.12 0.5 0.02 0.3 0 0 Z" fill="#5fbe48"/><path d="M0.04 0 L0.8 0" stroke="#3f9535" stroke-width="0.6" vector-effect="non-scaling-stroke" fill="none"/></g>
<g transform="translate(737.6 685.9) rotate(110.0) scale(12.0 7.0)"><path d="M0 0 C0.02 -0.3 0.12 -0.5 0.3 -0.52 L0.34 -0.44 C0.48 -0.52 0.6 -0.45 0.66 -0.36 L0.66 -0.28 C0.8 -0.3 0.92 -0.14 1 0 C0.92 0.14 0.8 0.3 0.66 0.28 L0.66 0.36 C0.6 0.45 0.48 0.52 0.34 0.44 L0.3 0.52 C0.12 0.5 0.02 0.3 0 0 Z" fill="#5fbe48"/><path d="M0.04 0 L0.8 0" stroke="#3f9535" stroke-width="0.6" vector-effect="non-scaling-stroke" fill="none"/></g>
<g transform="translate(743.5 688.1) rotate(80.0) scale(12.0 7.0)"><path d="M0 0 C0.02 -0.3 0.12 -0.5 0.3 -0.52 L0.34 -0.44 C0.48 -0.52 0.6 -0.45 0.66 -0.36 L0.66 -0.28 C0.8 -0.3 0.92 -0.14 1 0 C0.92 0.14 0.8 0.3 0.66 0.28 L0.66 0.36 C0.6 0.45 0.48 0.52 0.34 0.44 L0.3 0.52 C0.12 0.5 0.02 0.3 0 0 Z" fill="#5fbe48"/><path d="M0.04 0 L0.8 0" stroke="#3f9535" stroke-width="0.6" vector-effect="non-scaling-stroke" fill="none"/></g>
<g transform="translate(760.0 685.3) rotate(60.0) scale(12.0 7.0)"><path d="M0 0 C0.02 -0.3 0.12 -0.5 0.3 -0.52 L0.34 -0.44 C0.48 -0.52 0.6 -0.45 0.66 -0.36 L0.66 -0.28 C0.8 -0.3 0.92 -0.14 1 0 C0.92 0.14 0.8 0.3 0.66 0.28 L0.66 0.36 C0.6 0.45 0.48 0.52 0.34 0.44 L0.3 0.52 C0.12 0.5 0.02 0.3 0 0 Z" fill="#5fbe48"/><path d="M0.04 0 L0.8 0" stroke="#3f9535" stroke-width="0.6" vector-effect="non-scaling-stroke" fill="none"/></g>
<path d="M750.0 808.0 L749.5 775.0 L747.0 740.0 L750.0 722.0" fill="none" stroke="#4a9e3a" stroke-width="1.8" stroke-linecap="round" stroke-linejoin="round"/>
<path d="M749.0 760.0 L735.0 752.0 L727.0 750.0" fill="none" stroke="#4a9e3a" stroke-width="1.2" stroke-linecap="round" stroke-linejoin="round"/>
<path d="M749.0 765.0 L762.0 755.0 L770.0 750.0" fill="none" stroke="#4a9e3a" stroke-width="1.2" stroke-linecap="round" stroke-linejoin="round"/>
<path d="M749.5 790.0 L735.0 786.0 L722.0 790.0" fill="none" stroke="#4a9e3a" stroke-width="1.2" stroke-linecap="round" stroke-linejoin="round"/>
<path d="M750.0 795.0 L760.0 790.0 L770.0 790.0" fill="none" stroke="#4a9e3a" stroke-width="1.2" stroke-linecap="round" stroke-linejoin="round"/>
<g transform="translate(747.9 730.0) rotate(-70.0) scale(15.0 9.0)"><path d="M0 0 C0.02 -0.3 0.12 -0.5 0.3 -0.52 L0.34 -0.44 C0.48 -0.52 0.6 -0.45 0.66 -0.36 L0.66 -0.28 C0.8 -0.3 0.92 -0.14 1 0 C0.92 0.14 0.8 0.3 0.66 0.28 L0.66 0.36 C0.6 0.45 0.48 0.52 0.34 0.44 L0.3 0.52 C0.12 0.5 0.02 0.3 0 0 Z" fill="#5fbe48"/><path d="M0.04 0 L0.8 0" stroke="#3f9535" stroke-width="0.6" vector-effect="non-scaling-stroke" fill="none"/></g>
<g transform="translate(745.2 736.5) rotate(-140.0) scale(11.0 7.0)"><path d="M0 0 C0.02 -0.3 0.12 -0.5 0.3 -0.52 L0.34 -0.44 C0.48 -0.52 0.6 -0.45 0.66 -0.36 L0.66 -0.28 C0.8 -0.3 0.92 -0.14 1 0 C0.92 0.14 0.8 0.3 0.66 0.28 L0.66 0.36 C0.6 0.45 0.48 0.52 0.34 0.44 L0.3 0.52 C0.12 0.5 0.02 0.3 0 0 Z" fill="#5fbe48"/><path d="M0.04 0 L0.8 0" stroke="#3f9535" stroke-width="0.6" vector-effect="non-scaling-stroke" fill="none"/></g>
<g transform="translate(747.7 736.9) rotate(-15.0) scale(11.0 7.0)"><path d="M0 0 C0.02 -0.3 0.12 -0.5 0.3 -0.52 L0.34 -0.44 C0.48 -0.52 0.6 -0.45 0.66 -0.36 L0.66 -0.28 C0.8 -0.3 0.92 -0.14 1 0 C0.92 0.14 0.8 0.3 0.66 0.28 L0.66 0.36 C0.6 0.45 0.48 0.52 0.34 0.44 L0.3 0.52 C0.12 0.5 0.02 0.3 0 0 Z" fill="#5fbe48"/><path d="M0.04 0 L0.8 0" stroke="#3f9535" stroke-width="0.6" vector-effect="non-scaling-stroke" fill="none"/></g>
<g transform="translate(730.1 762.5) rotate(-110.0) scale(15.0 9.0)"><path d="M0 0 C0.02 -0.3 0.12 -0.5 0.3 -0.52 L0.34 -0.44 C0.48 -0.52 0.6 -0.45 0.66 -0.36 L0.66 -0.28 C0.8 -0.3 0.92 -0.14 1 0 C0.92 0.14 0.8 0.3 0.66 0.28 L0.66 0.36 C0.6 0.45 0.48 0.52 0.34 0.44 L0.3 0.52 C0.12 0.5 0.02 0.3 0 0 Z" fill="#5fbe48"/><path d="M0.04 0 L0.8 0" stroke="#3f9535" stroke-width="0.6" vector-effect="non-scaling-stroke" fill="none"/></g>
<g transform="translate(763.9 762.5) rotate(-70.0) scale(15.0 9.0)"><path d="M0 0 C0.02 -0.3 0.12 -0.5 0.3 -0.52 L0.34 -0.44 C0.48 -0.52 0.6 -0.45 0.66 -0.36 L0.66 -0.28 C0.8 -0.3 0.92 -0.14 1 0 C0.92 0.14 0.8 0.3 0.66 0.28 L0.66 0.36 C0.6 0.45 0.48 0.52 0.34 0.44 L0.3 0.52 C0.12 0.5 0.02 0.3 0 0 Z" fill="#5fbe48"/><path d="M0.04 0 L0.8 0" stroke="#3f9535" stroke-width="0.6" vector-effect="non-scaling-stroke" fill="none"/></g>
<g transform="translate(741.8 757.8) rotate(150.0) scale(11.0 7.0)"><path d="M0 0 C0.02 -0.3 0.12 -0.5 0.3 -0.52 L0.34 -0.44 C0.48 -0.52 0.6 -0.45 0.66 -0.36 L0.66 -0.28 C0.8 -0.3 0.92 -0.14 1 0 C0.92 0.14 0.8 0.3 0.66 0.28 L0.66 0.36 C0.6 0.45 0.48 0.52 0.34 0.44 L0.3 0.52 C0.12 0.5 0.02 0.3 0 0 Z" fill="#5fbe48"/><path d="M0.04 0 L0.8 0" stroke="#3f9535" stroke-width="0.6" vector-effect="non-scaling-stroke" fill="none"/></g>
<g transform="translate(753.8 757.0) rotate(40.0) scale(11.0 7.0)"><path d="M0 0 C0.02 -0.3 0.12 -0.5 0.3 -0.52 L0.34 -0.44 C0.48 -0.52 0.6 -0.45 0.66 -0.36 L0.66 -0.28 C0.8 -0.3 0.92 -0.14 1 0 C0.92 0.14 0.8 0.3 0.66 0.28 L0.66 0.36 C0.6 0.45 0.48 0.52 0.34 0.44 L0.3 0.52 C0.12 0.5 0.02 0.3 0 0 Z" fill="#5fbe48"/><path d="M0.04 0 L0.8 0" stroke="#3f9535" stroke-width="0.6" vector-effect="non-scaling-stroke" fill="none"/></g>
<g transform="translate(735.5 766.9) rotate(175.0) scale(14.0 8.0)"><path d="M0 0 C0.02 -0.3 0.12 -0.5 0.3 -0.52 L0.34 -0.44 C0.48 -0.52 0.6 -0.45 0.66 -0.36 L0.66 -0.28 C0.8 -0.3 0.92 -0.14 1 0 C0.92 0.14 0.8 0.3 0.66 0.28 L0.66 0.36 C0.6 0.45 0.48 0.52 0.34 0.44 L0.3 0.52 C0.12 0.5 0.02 0.3 0 0 Z" fill="#5fbe48"/><path d="M0.04 0 L0.8 0" stroke="#3f9535" stroke-width="0.6" vector-effect="non-scaling-stroke" fill="none"/></g>
<g transform="translate(758.2 766.2) rotate(15.0) scale(14.0 8.0)"><path d="M0 0 C0.02 -0.3 0.12 -0.5 0.3 -0.52 L0.34 -0.44 C0.48 -0.52 0.6 -0.45 0.66 -0.36 L0.66 -0.28 C0.8 -0.3 0.92 -0.14 1 0 C0.92 0.14 0.8 0.3 0.66 0.28 L0.66 0.36 C0.6 0.45 0.48 0.52 0.34 0.44 L0.3 0.52 C0.12 0.5 0.02 0.3 0 0 Z" fill="#5fbe48"/><path d="M0.04 0 L0.8 0" stroke="#3f9535" stroke-width="0.6" vector-effect="non-scaling-stroke" fill="none"/></g>
<g transform="translate(738.5 770.8) rotate(-60.0) scale(10.0 7.0)"><path d="M0 0 C0.02 -0.3 0.12 -0.5 0.3 -0.52 L0.34 -0.44 C0.48 -0.52 0.6 -0.45 0.66 -0.36 L0.66 -0.28 C0.8 -0.3 0.92 -0.14 1 0 C0.92 0.14 0.8 0.3 0.66 0.28 L0.66 0.36 C0.6 0.45 0.48 0.52 0.34 0.44 L0.3 0.52 C0.12 0.5 0.02 0.3 0 0 Z" fill="#5fbe48"/><path d="M0.04 0 L0.8 0" stroke="#3f9535" stroke-width="0.6" vector-effect="non-scaling-stroke" fill="none"/></g>
<g transform="translate(754.5 768.7) rotate(60.0) scale(10.0 7.0)"><path d="M0 0 C0.02 -0.3 0.12 -0.5 0.3 -0.52 L0.34 -0.44 C0.48 -0.52 0.6 -0.45 0.66 -0.36 L0.66 -0.28 C0.8 -0.3 0.92 -0.14 1 0 C0.92 0.14 0.8 0.3 0.66 0.28 L0.66 0.36 C0.6 0.45 0.48 0.52 0.34 0.44 L0.3 0.52 C0.12 0.5 0.02 0.3 0 0 Z" fill="#5fbe48"/><path d="M0.04 0 L0.8 0" stroke="#3f9535" stroke-width="0.6" vector-effect="non-scaling-stroke" fill="none"/></g>
<g transform="translate(732.4 792.8) rotate(190.0) scale(15.0 9.0)"><path d="M0 0 C0.02 -0.3 0.12 -0.5 0.3 -0.52 L0.34 -0.44 C0.48 -0.52 0.6 -0.45 0.66 -0.36 L0.66 -0.28 C0.8 -0.3 0.92 -0.14 1 0 C0.92 0.14 0.8 0.3 0.66 0.28 L0.66 0.36 C0.6 0.45 0.48 0.52 0.34 0.44 L0.3 0.52 C0.12 0.5 0.02 0.3 0 0 Z" fill="#5fbe48"/><path d="M0.04 0 L0.8 0" stroke="#3f9535" stroke-width="0.6" vector-effect="non-scaling-stroke" fill="none"/></g>
<g transform="translate(740.0 788.8) rotate(120.0) scale(12.0 7.0)"><path d="M0 0 C0.02 -0.3 0.12 -0.5 0.3 -0.52 L0.34 -0.44 C0.48 -0.52 0.6 -0.45 0.66 -0.36 L0.66 -0.28 C0.8 -0.3 0.92 -0.14 1 0 C0.92 0.14 0.8 0.3 0.66 0.28 L0.66 0.36 C0.6 0.45 0.48 0.52 0.34 0.44 L0.3 0.52 C0.12 0.5 0.02 0.3 0 0 Z" fill="#5fbe48"/><path d="M0.04 0 L0.8 0" stroke="#3f9535" stroke-width="0.6" vector-effect="non-scaling-stroke" fill="none"/></g>
<g transform="translate(741.5 789.6) rotate(80.0) scale(12.0 7.0)"><path d="M0 0 C0.02 -0.3 0.12 -0.5 0.3 -0.52 L0.34 -0.44 C0.48 -0.52 0.6 -0.45 0.66 -0.36 L0.66 -0.28 C0.8 -0.3 0.92 -0.14 1 0 C0.92 0.14 0.8 0.3 0.66 0.28 L0.66 0.36 C0.6 0.45 0.48 0.52 0.34 0.44 L0.3 0.52 C0.12 0.5 0.02 0.3 0 0 Z" fill="#5fbe48"/><path d="M0.04 0 L0.8 0" stroke="#3f9535" stroke-width="0.6" vector-effect="non-scaling-stroke" fill="none"/></g>
<g transform="translate(759.0 789.8) rotate(60.0) scale(12.0 8.0)"><path d="M0 0 C0.02 -0.3 0.12 -0.5 0.3 -0.52 L0.34 -0.44 C0.48 -0.52 0.6 -0.45 0.66 -0.36 L0.66 -0.28 C0.8 -0.3 0.92 -0.14 1 0 C0.92 0.14 0.8 0.3 0.66 0.28 L0.66 0.36 C0.6 0.45 0.48 0.52 0.34 0.44 L0.3 0.52 C0.12 0.5 0.02 0.3 0 0 Z" fill="#5fbe48"/><path d="M0.04 0 L0.8 0" stroke="#3f9535" stroke-width="0.6" vector-effect="non-scaling-stroke" fill="none"/></g>
<g transform="translate(766.0 794.2) rotate(-60.0) scale(12.0 8.0)"><path d="M0 0 C0.02 -0.3 0.12 -0.5 0.3 -0.52 L0.34 -0.44 C0.48 -0.52 0.6 -0.45 0.66 -0.36 L0.66 -0.28 C0.8 -0.3 0.92 -0.14 1 0 C0.92 0.14 0.8 0.3 0.66 0.28 L0.66 0.36 C0.6 0.45 0.48 0.52 0.34 0.44 L0.3 0.52 C0.12 0.5 0.02 0.3 0 0 Z" fill="#5fbe48"/><path d="M0.04 0 L0.8 0" stroke="#3f9535" stroke-width="0.6" vector-effect="non-scaling-stroke" fill="none"/></g>
<g transform="translate(758.3 796.3) rotate(70.0) scale(10.0 7.0)"><path d="M0 0 C0.02 -0.3 0.12 -0.5 0.3 -0.52 L0.34 -0.44 C0.48 -0.52 0.6 -0.45 0.66 -0.36 L0.66 -0.28 C0.8 -0.3 0.92 -0.14 1 0 C0.92 0.14 0.8 0.3 0.66 0.28 L0.66 0.36 C0.6 0.45 0.48 0.52 0.34 0.44 L0.3 0.52 C0.12 0.5 0.02 0.3 0 0 Z" fill="#5fbe48"/><path d="M0.04 0 L0.8 0" stroke="#3f9535" stroke-width="0.6" vector-effect="non-scaling-stroke" fill="none"/></g>
<polygon points="742.9,742.8 743.6,744.4 745.3,744.5 744.0,745.6 744.4,747.3 742.9,746.4 741.4,747.3 741.8,745.6 740.5,744.5 742.2,744.4" fill="#f2d622"/>
<polygon points="740.6,747.9 741.3,749.5 743.0,749.6 741.7,750.7 742.1,752.4 740.6,751.5 739.1,752.4 739.5,750.7 738.2,749.6 739.9,749.5" fill="#f2d622"/>
<polygon points="737.8,750.1 738.5,751.7 740.2,751.8 738.9,753.0 739.3,754.6 737.8,753.7 736.4,754.6 736.8,753.0 735.5,751.8 737.2,751.7" fill="#f2d622"/>
<polygon points="733.3,750.5 734.0,752.1 735.7,752.2 734.4,753.3 734.8,755.0 733.3,754.1 731.8,755.0 732.2,753.3 730.9,752.2 732.7,752.1" fill="#f2d622"/>
<polygon points="731.4,747.9 732.1,749.4 733.8,749.6 732.5,750.7 732.9,752.4 731.4,751.5 729.9,752.4 730.3,750.7 729.0,749.6 730.8,749.4" fill="#f2d622"/>
<polygon points="729.3,742.9 729.9,744.5 731.7,744.6 730.3,745.8 730.7,747.4 729.3,746.5 727.8,747.4 728.2,745.8 726.9,744.6 728.6,744.5" fill="#f2d622"/>
<polygon points="731.3,739.6 731.9,741.2 733.7,741.3 732.3,742.4 732.7,744.1 731.3,743.2 729.8,744.1 730.2,742.4 728.9,741.3 730.6,741.2" fill="#f2d622"/>
<polygon points="733.5,736.7 734.2,738.3 735.9,738.5 734.6,739.6 735.0,741.3 733.5,740.4 732.1,741.3 732.5,739.6 731.2,738.5 732.9,738.3" fill="#f2d622"/>
<polygon points="737.5,736.2 738.1,737.8 739.9,737.9 738.5,739.1 738.9,740.7 737.5,739.8 736.0,740.7 736.4,739.1 735.1,737.9 736.8,737.8" fill="#f2d622"/>
<polygon points="741.0,740.6 741.7,742.2 743.4,742.3 742.1,743.4 742.5,745.1 741.0,744.2 739.6,745.1 740.0,743.4 738.7,742.3 740.4,742.2" fill="#f2d622"/>
<polygon points="738.6,743.9 739.2,745.3 740.8,745.5 739.6,746.5 740.0,748.0 738.6,747.2 737.2,748.0 737.6,746.5 736.4,745.5 738.0,745.3" fill="#f2d622"/>
<polygon points="733.4,745.2 734.0,746.7 735.5,746.8 734.3,747.8 734.7,749.4 733.4,748.5 732.0,749.4 732.4,747.8 731.2,746.8 732.7,746.7" fill="#f2d622"/>
<polygon points="736.9,741.1 737.5,742.6 739.1,742.7 737.9,743.7 738.3,745.3 736.9,744.5 735.6,745.3 735.9,743.7 734.7,742.7 736.3,742.6" fill="#f2d622"/>
<polygon points="761.7,745.3 762.4,746.9 764.1,747.1 762.8,748.2 763.2,749.9 761.7,749.0 760.2,749.9 760.6,748.2 759.3,747.1 761.0,746.9" fill="#f2d622"/>
<polygon points="759.9,747.3 760.6,748.9 762.3,749.0 761.0,750.2 761.4,751.8 759.9,750.9 758.5,751.8 758.9,750.2 757.6,749.0 759.3,748.9" fill="#f2d622"/>
<polygon points="756.3,751.4 757.0,753.0 758.7,753.1 757.4,754.3 757.8,755.9 756.3,755.0 754.8,755.9 755.2,754.3 753.9,753.1 755.6,753.0" fill="#f2d622"/>
<polygon points="752.8,750.5 753.4,752.1 755.1,752.2 753.8,753.4 754.2,755.0 752.8,754.1 751.3,755.0 751.7,753.4 750.4,752.2 752.1,752.1" fill="#f2d622"/>
<polygon points="749.6,748.3 750.3,749.9 752.0,750.0 750.7,751.1 751.1,752.8 749.6,751.9 748.1,752.8 748.5,751.1 747.2,750.0 748.9,749.9" fill="#f2d622"/>
<polygon points="749.1,744.1 749.7,745.7 751.5,745.9 750.2,747.0 750.6,748.7 749.1,747.8 747.6,748.7 748.0,747.0 746.7,745.9 748.4,745.7" fill="#f2d622"/>
<polygon points="749.9,740.4 750.5,742.0 752.2,742.2 750.9,743.3 751.3,745.0 749.9,744.1 748.4,745.0 748.8,743.3 747.5,742.2 749.2,742.0" fill="#f2d622"/>
<polygon points="753.2,736.9 753.9,738.5 755.6,738.6 754.3,739.7 754.7,741.4 753.2,740.5 751.7,741.4 752.1,739.7 750.8,738.6 752.5,738.5" fill="#f2d622"/>
<polygon points="757.6,738.0 758.3,739.6 760.0,739.7 758.7,740.8 759.1,742.5 757.6,741.6 756.2,742.5 756.6,740.8 755.3,739.7 757.0,739.6" fill="#f2d622"/>
<polygon points="759.7,740.3 760.3,741.9 762.0,742.1 760.7,743.2 761.1,744.9 759.7,744.0 758.2,744.9 758.6,743.2 757.3,742.1 759.0,741.9" fill="#f2d622"/>
<polygon points="757.5,744.6 758.1,746.1 759.7,746.2 758.5,747.2 758.9,748.8 757.5,747.9 756.2,748.8 756.6,747.2 755.4,746.2 756.9,746.1" fill="#f2d622"/>
<polygon points="753.5,747.0 754.1,748.5 755.7,748.6 754.5,749.6 754.9,751.1 753.5,750.3 752.2,751.1 752.5,749.6 751.3,748.6 752.9,748.5" fill="#f2d622"/>
<polygon points="754.7,741.6 755.4,743.0 756.9,743.2 755.7,744.2 756.1,745.7 754.7,744.9 753.4,745.7 753.8,744.2 752.6,743.2 754.1,743.0" fill="#f2d622"/>
<polygon points="744.9,775.8 745.6,777.3 747.3,777.5 746.0,778.6 746.4,780.3 744.9,779.4 743.5,780.3 743.9,778.6 742.6,777.5 744.3,777.3" fill="#f2d622"/>
<polygon points="743.8,780.2 744.4,781.8 746.1,782.0 744.8,783.1 745.2,784.8 743.8,783.9 742.3,784.8 742.7,783.1 741.4,782.0 743.1,781.8" fill="#f2d622"/>
<polygon points="739.2,782.4 739.8,784.0 741.6,784.1 740.3,785.2 740.7,786.9 739.2,786.0 737.7,786.9 738.1,785.2 736.8,784.1 738.5,784.0" fill="#f2d622"/>
<polygon points="735.9,783.6 736.6,785.2 738.3,785.4 737.0,786.5 737.4,788.1 735.9,787.2 734.5,788.1 734.9,786.5 733.6,785.4 735.3,785.2" fill="#f2d622"/>
<polygon points="731.8,780.5 732.5,782.1 734.2,782.2 732.9,783.4 733.3,785.0 731.8,784.1 730.3,785.0 730.7,783.4 729.4,782.2 731.2,782.1" fill="#f2d622"/>
<polygon points="729.8,775.3 730.5,776.9 732.2,777.0 730.9,778.1 731.3,779.8 729.8,778.9 728.4,779.8 728.8,778.1 727.5,777.0 729.2,776.9" fill="#f2d622"/>
<polygon points="731.7,771.7 732.3,773.3 734.0,773.4 732.7,774.5 733.1,776.2 731.7,775.3 730.2,776.2 730.6,774.5 729.3,773.4 731.0,773.3" fill="#f2d622"/>
<polygon points="735.4,770.1 736.1,771.7 737.8,771.8 736.5,773.0 736.9,774.6 735.4,773.7 733.9,774.6 734.3,773.0 733.0,771.8 734.7,771.7" fill="#f2d622"/>
<polygon points="740.1,769.3 740.8,770.9 742.5,771.0 741.2,772.1 741.6,773.8 740.1,772.9 738.7,773.8 739.1,772.1 737.8,771.0 739.5,770.9" fill="#f2d622"/>
<polygon points="743.8,772.1 744.5,773.6 746.2,773.8 744.9,774.9 745.3,776.6 743.8,775.7 742.3,776.6 742.7,774.9 741.4,773.8 743.1,773.6" fill="#f2d622"/>
<polygon points="739.8,778.3 740.4,779.8 742.0,779.9 740.8,780.9 741.2,782.5 739.8,781.7 738.5,782.5 738.8,780.9 737.6,779.9 739.2,779.8" fill="#f2d622"/>
<polygon points="735.5,778.9 736.1,780.4 737.7,780.5 736.5,781.6 736.9,783.1 735.5,782.3 734.2,783.1 734.5,781.6 733.3,780.5 734.9,780.4" fill="#f2d622"/>
<polygon points="738.0,773.7 738.7,775.1 740.2,775.2 739.0,776.3 739.4,777.8 738.0,777.0 736.7,777.8 737.1,776.3 735.9,775.2 737.4,775.1" fill="#f2d622"/>
<polygon points="769.9,778.0 770.6,779.6 772.3,779.8 771.0,780.9 771.4,782.6 769.9,781.7 768.5,782.6 768.9,780.9 767.6,779.8 769.3,779.6" fill="#f2d622"/>
<polygon points="768.8,781.9 769.5,783.5 771.2,783.6 769.9,784.7 770.3,786.4 768.8,785.5 767.4,786.4 767.8,784.7 766.5,783.6 768.2,783.5" fill="#f2d622"/>
<polygon points="766.2,784.2 766.9,785.8 768.6,785.9 767.3,787.1 767.7,788.7 766.2,787.8 764.7,788.7 765.1,787.1 763.8,785.9 765.5,785.8" fill="#f2d622"/>
<polygon points="759.6,784.7 760.2,786.3 761.9,786.4 760.6,787.6 761.0,789.2 759.6,788.3 758.1,789.2 758.5,787.6 757.2,786.4 758.9,786.3" fill="#f2d622"/>
<polygon points="756.9,781.7 757.6,783.3 759.3,783.4 758.0,784.5 758.4,786.2 756.9,785.3 755.4,786.2 755.8,784.5 754.5,783.4 756.2,783.3" fill="#f2d622"/>
<polygon points="755.8,778.4 756.4,780.0 758.1,780.2 756.8,781.3 757.2,783.0 755.8,782.1 754.3,783.0 754.7,781.3 753.4,780.2 755.1,780.0" fill="#f2d622"/>
<polygon points="757.0,775.5 757.6,777.1 759.4,777.2 758.1,778.4 758.5,780.0 757.0,779.1 755.5,780.0 755.9,778.4 754.6,777.2 756.3,777.1" fill="#f2d622"/>
<polygon points="759.8,772.0 760.4,773.6 762.2,773.7 760.8,774.9 761.2,776.5 759.8,775.6 758.3,776.5 758.7,774.9 757.4,773.7 759.1,773.6" fill="#f2d622"/>
<polygon points="766.2,772.2 766.9,773.8 768.6,773.9 767.3,775.0 767.7,776.7 766.2,775.8 764.8,776.7 765.2,775.0 763.9,773.9 765.6,773.8" fill="#f2d622"/>
<polygon points="769.1,775.4 769.8,777.0 771.5,777.1 770.2,778.3 770.6,779.9 769.1,779.0 767.6,779.9 768.0,778.3 766.7,777.1 768.4,777.0" fill="#f2d622"/>
<polygon points="766.0,779.5 766.7,781.0 768.2,781.1 767.0,782.1 767.4,783.7 766.0,782.9 764.7,783.7 765.1,782.1 763.9,781.1 765.4,781.0" fill="#f2d622"/>
<polygon points="760.1,779.8 760.7,781.3 762.3,781.4 761.1,782.4 761.4,784.0 760.1,783.1 758.7,784.0 759.1,782.4 757.9,781.4 759.5,781.3" fill="#f2d622"/>
<polygon points="763.7,776.0 764.3,777.5 765.8,777.6 764.6,778.7 765.0,780.2 763.7,779.4 762.3,780.2 762.7,778.7 761.5,777.6 763.1,777.5" fill="#f2d622"/>
<polygon points="743.0,760.1 743.5,761.3 744.8,761.4 743.8,762.3 744.1,763.5 743.0,762.9 741.9,763.5 742.2,762.3 741.2,761.4 742.5,761.3" fill="#f2d622"/>
<polygon points="749.0,759.1 749.5,760.3 750.8,760.4 749.8,761.3 750.1,762.5 749.0,761.9 747.9,762.5 748.2,761.3 747.2,760.4 748.5,760.3" fill="#f2d622"/>
<polygon points="757.0,765.1 757.5,766.3 758.8,766.4 757.8,767.3 758.1,768.5 757.0,767.9 755.9,768.5 756.2,767.3 755.2,766.4 756.5,766.3" fill="#f2d622"/>
<polygon points="745.0,769.1 745.5,770.3 746.8,770.4 745.8,771.3 746.1,772.5 745.0,771.9 743.9,772.5 744.2,771.3 743.2,770.4 744.5,770.3" fill="#f2d622"/>
<polygon points="752.0,773.1 752.5,774.3 753.8,774.4 752.8,775.3 753.1,776.5 752.0,775.9 750.9,776.5 751.2,775.3 750.2,774.4 751.5,774.3" fill="#f2d622"/>
<path d="M752.5 911.0 L751.5 870.0 L749.0 840.0 L752.0 820.0" fill="none" stroke="#4a9e3a" stroke-width="1.8" stroke-linecap="round" stroke-linejoin="round"/>
<path d="M751.0 860.0 L737.0 855.0 L727.0 850.0" fill="none" stroke="#4a9e3a" stroke-width="1.2" stroke-linecap="round" stroke-linejoin="round"/>
<path d="M751.5 865.0 L762.0 860.0 L772.0 855.0" fill="none" stroke="#4a9e3a" stroke-width="1.2" stroke-linecap="round" stroke-linejoin="round"/>
<path d="M752.0 888.0 L738.0 890.0 L724.0 895.0" fill="none" stroke="#4a9e3a" stroke-width="1.2" stroke-linecap="round" stroke-linejoin="round"/>
<path d="M752.0 885.0 L765.0 883.0 L775.0 885.0" fill="none" stroke="#4a9e3a" stroke-width="1.2" stroke-linecap="round" stroke-linejoin="round"/>
<g transform="translate(750.9 829.0) rotate(-70.0) scale(15.0 9.0)"><path d="M0 0 C0.02 -0.3 0.12 -0.5 0.3 -0.52 L0.34 -0.44 C0.48 -0.52 0.6 -0.45 0.66 -0.36 L0.66 -0.28 C0.8 -0.3 0.92 -0.14 1 0 C0.92 0.14 0.8 0.3 0.66 0.28 L0.66 0.36 C0.6 0.45 0.48 0.52 0.34 0.44 L0.3 0.52 C0.12 0.5 0.02 0.3 0 0 Z" fill="#5fbe48"/><path d="M0.04 0 L0.8 0" stroke="#3f9535" stroke-width="0.6" vector-effect="non-scaling-stroke" fill="none"/></g>
<g transform="translate(746.2 835.5) rotate(-140.0) scale(11.0 7.0)"><path d="M0 0 C0.02 -0.3 0.12 -0.5 0.3 -0.52 L0.34 -0.44 C0.48 -0.52 0.6 -0.45 0.66 -0.36 L0.66 -0.28 C0.8 -0.3 0.92 -0.14 1 0 C0.92 0.14 0.8 0.3 0.66 0.28 L0.66 0.36 C0.6 0.45 0.48 0.52 0.34 0.44 L0.3 0.52 C0.12 0.5 0.02 0.3 0 0 Z" fill="#5fbe48"/><path d="M0.04 0 L0.8 0" stroke="#3f9535" stroke-width="0.6" vector-effect="non-scaling-stroke" fill="none"/></g>
<g transform="translate(750.2 835.4) rotate(-15.0) scale(11.0 7.0)"><path d="M0 0 C0.02 -0.3 0.12 -0.5 0.3 -0.52 L0.34 -0.44 C0.48 -0.52 0.6 -0.45 0.66 -0.36 L0.66 -0.28 C0.8 -0.3 0.92 -0.14 1 0 C0.92 0.14 0.8 0.3 0.66 0.28 L0.66 0.36 C0.6 0.45 0.48 0.52 0.34 0.44 L0.3 0.52 C0.12 0.5 0.02 0.3 0 0 Z" fill="#5fbe48"/><path d="M0.04 0 L0.8 0" stroke="#3f9535" stroke-width="0.6" vector-effect="non-scaling-stroke" fill="none"/></g>
<g transform="translate(745.7 843.9) rotate(-160.0) scale(11.0 7.0)"><path d="M0 0 C0.02 -0.3 0.12 -0.5 0.3 -0.52 L0.34 -0.44 C0.48 -0.52 0.6 -0.45 0.66 -0.36 L0.66 -0.28 C0.8 -0.3 0.92 -0.14 1 0 C0.92 0.14 0.8 0.3 0.66 0.28 L0.66 0.36 C0.6 0.45 0.48 0.52 0.34 0.44 L0.3 0.52 C0.12 0.5 0.02 0.3 0 0 Z" fill="#5fbe48"/><path d="M0.04 0 L0.8 0" stroke="#3f9535" stroke-width="0.6" vector-effect="non-scaling-stroke" fill="none"/></g>
<g transform="translate(749.1 843.0) rotate(-10.0) scale(11.0 7.0)"><path d="M0 0 C0.02 -0.3 0.12 -0.5 0.3 -0.52 L0.34 -0.44 C0.48 -0.52 0.6 -0.45 0.66 -0.36 L0.66 -0.28 C0.8 -0.3 0.92 -0.14 1 0 C0.92 0.14 0.8 0.3 0.66 0.28 L0.66 0.36 C0.6 0.45 0.48 0.52 0.34 0.44 L0.3 0.52 C0.12 0.5 0.02 0.3 0 0 Z" fill="#5fbe48"/><path d="M0.04 0 L0.8 0" stroke="#3f9535" stroke-width="0.6" vector-effect="non-scaling-stroke" fill="none"/></g>
<g transform="translate(730.1 862.5) rotate(-110.0) scale(15.0 9.0)"><path d="M0 0 C0.02 -0.3 0.12 -0.5 0.3 -0.52 L0.34 -0.44 C0.48 -0.52 0.6 -0.45 0.66 -0.36 L0.66 -0.28 C0.8 -0.3 0.92 -0.14 1 0 C0.92 0.14 0.8 0.3 0.66 0.28 L0.66 0.36 C0.6 0.45 0.48 0.52 0.34 0.44 L0.3 0.52 C0.12 0.5 0.02 0.3 0 0 Z" fill="#5fbe48"/><path d="M0.04 0 L0.8 0" stroke="#3f9535" stroke-width="0.6" vector-effect="non-scaling-stroke" fill="none"/></g>
<g transform="translate(769.4 860.0) rotate(-70.0) scale(15.0 9.0)"><path d="M0 0 C0.02 -0.3 0.12 -0.5 0.3 -0.52 L0.34 -0.44 C0.48 -0.52 0.6 -0.45 0.66 -0.36 L0.66 -0.28 C0.8 -0.3 0.92 -0.14 1 0 C0.92 0.14 0.8 0.3 0.66 0.28 L0.66 0.36 C0.6 0.45 0.48 0.52 0.34 0.44 L0.3 0.52 C0.12 0.5 0.02 0.3 0 0 Z" fill="#5fbe48"/><path d="M0.04 0 L0.8 0" stroke="#3f9535" stroke-width="0.6" vector-effect="non-scaling-stroke" fill="none"/></g>
<g transform="translate(734.5 866.9) rotate(175.0) scale(14.0 8.0)"><path d="M0 0 C0.02 -0.3 0.12 -0.5 0.3 -0.52 L0.34 -0.44 C0.48 -0.52 0.6 -0.45 0.66 -0.36 L0.66 -0.28 C0.8 -0.3 0.92 -0.14 1 0 C0.92 0.14 0.8 0.3 0.66 0.28 L0.66 0.36 C0.6 0.45 0.48 0.52 0.34 0.44 L0.3 0.52 C0.12 0.5 0.02 0.3 0 0 Z" fill="#5fbe48"/><path d="M0.04 0 L0.8 0" stroke="#3f9535" stroke-width="0.6" vector-effect="non-scaling-stroke" fill="none"/></g>
<g transform="translate(733.7 859.3) rotate(40.0) scale(10.0 7.0)"><path d="M0 0 C0.02 -0.3 0.12 -0.5 0.3 -0.52 L0.34 -0.44 C0.48 -0.52 0.6 -0.45 0.66 -0.36 L0.66 -0.28 C0.8 -0.3 0.92 -0.14 1 0 C0.92 0.14 0.8 0.3 0.66 0.28 L0.66 0.36 C0.6 0.45 0.48 0.52 0.34 0.44 L0.3 0.52 C0.12 0.5 0.02 0.3 0 0 Z" fill="#5fbe48"/><path d="M0.04 0 L0.8 0" stroke="#3f9535" stroke-width="0.6" vector-effect="non-scaling-stroke" fill="none"/></g>
<g transform="translate(743.8 871.2) rotate(-70.0) scale(10.0 7.0)"><path d="M0 0 C0.02 -0.3 0.12 -0.5 0.3 -0.52 L0.34 -0.44 C0.48 -0.52 0.6 -0.45 0.66 -0.36 L0.66 -0.28 C0.8 -0.3 0.92 -0.14 1 0 C0.92 0.14 0.8 0.3 0.66 0.28 L0.66 0.36 C0.6 0.45 0.48 0.52 0.34 0.44 L0.3 0.52 C0.12 0.5 0.02 0.3 0 0 Z" fill="#5fbe48"/><path d="M0.04 0 L0.8 0" stroke="#3f9535" stroke-width="0.6" vector-effect="non-scaling-stroke" fill="none"/></g>
<g transform="translate(756.4 871.9) rotate(-100.0) scale(10.0 7.0)"><path d="M0 0 C0.02 -0.3 0.12 -0.5 0.3 -0.52 L0.34 -0.44 C0.48 -0.52 0.6 -0.45 0.66 -0.36 L0.66 -0.28 C0.8 -0.3 0.92 -0.14 1 0 C0.92 0.14 0.8 0.3 0.66 0.28 L0.66 0.36 C0.6 0.45 0.48 0.52 0.34 0.44 L0.3 0.52 C0.12 0.5 0.02 0.3 0 0 Z" fill="#5fbe48"/><path d="M0.04 0 L0.8 0" stroke="#3f9535" stroke-width="0.6" vector-effect="non-scaling-stroke" fill="none"/></g>
<g transform="translate(767.6 867.0) rotate(10.0) scale(12.0 7.0)"><path d="M0 0 C0.02 -0.3 0.12 -0.5 0.3 -0.52 L0.34 -0.44 C0.48 -0.52 0.6 -0.45 0.66 -0.36 L0.66 -0.28 C0.8 -0.3 0.92 -0.14 1 0 C0.92 0.14 0.8 0.3 0.66 0.28 L0.66 0.36 C0.6 0.45 0.48 0.52 0.34 0.44 L0.3 0.52 C0.12 0.5 0.02 0.3 0 0 Z" fill="#5fbe48"/><path d="M0.04 0 L0.8 0" stroke="#3f9535" stroke-width="0.6" vector-effect="non-scaling-stroke" fill="none"/></g>
<g transform="translate(740.3 873.2) rotate(150.0) scale(11.0 7.0)"><path d="M0 0 C0.02 -0.3 0.12 -0.5 0.3 -0.52 L0.34 -0.44 C0.48 -0.52 0.6 -0.45 0.66 -0.36 L0.66 -0.28 C0.8 -0.3 0.92 -0.14 1 0 C0.92 0.14 0.8 0.3 0.66 0.28 L0.66 0.36 C0.6 0.45 0.48 0.52 0.34 0.44 L0.3 0.52 C0.12 0.5 0.02 0.3 0 0 Z" fill="#5fbe48"/><path d="M0.04 0 L0.8 0" stroke="#3f9535" stroke-width="0.6" vector-effect="non-scaling-stroke" fill="none"/></g>
<g transform="translate(744.9 891.9) rotate(-100.0) scale(10.0 7.0)"><path d="M0 0 C0.02 -0.3 0.12 -0.5 0.3 -0.52 L0.34 -0.44 C0.48 -0.52 0.6 -0.45 0.66 -0.36 L0.66 -0.28 C0.8 -0.3 0.92 -0.14 1 0 C0.92 0.14 0.8 0.3 0.66 0.28 L0.66 0.36 C0.6 0.45 0.48 0.52 0.34 0.44 L0.3 0.52 C0.12 0.5 0.02 0.3 0 0 Z" fill="#5fbe48"/><path d="M0.04 0 L0.8 0" stroke="#3f9535" stroke-width="0.6" vector-effect="non-scaling-stroke" fill="none"/></g>
<g transform="translate(747.1 892.5) rotate(-85.0) scale(10.0 7.0)"><path d="M0 0 C0.02 -0.3 0.12 -0.5 0.3 -0.52 L0.34 -0.44 C0.48 -0.52 0.6 -0.45 0.66 -0.36 L0.66 -0.28 C0.8 -0.3 0.92 -0.14 1 0 C0.92 0.14 0.8 0.3 0.66 0.28 L0.66 0.36 C0.6 0.45 0.48 0.52 0.34 0.44 L0.3 0.52 C0.12 0.5 0.02 0.3 0 0 Z" fill="#5fbe48"/><path d="M0.04 0 L0.8 0" stroke="#3f9535" stroke-width="0.6" vector-effect="non-scaling-stroke" fill="none"/></g>
<g transform="translate(732.9 895.8) rotate(190.0) scale(15.0 9.0)"><path d="M0 0 C0.02 -0.3 0.12 -0.5 0.3 -0.52 L0.34 -0.44 C0.48 -0.52 0.6 -0.45 0.66 -0.36 L0.66 -0.28 C0.8 -0.3 0.92 -0.14 1 0 C0.92 0.14 0.8 0.3 0.66 0.28 L0.66 0.36 C0.6 0.45 0.48 0.52 0.34 0.44 L0.3 0.52 C0.12 0.5 0.02 0.3 0 0 Z" fill="#5fbe48"/><path d="M0.04 0 L0.8 0" stroke="#3f9535" stroke-width="0.6" vector-effect="non-scaling-stroke" fill="none"/></g>
<g transform="translate(736.6 894.9) rotate(110.0) scale(12.0 7.0)"><path d="M0 0 C0.02 -0.3 0.12 -0.5 0.3 -0.52 L0.34 -0.44 C0.48 -0.52 0.6 -0.45 0.66 -0.36 L0.66 -0.28 C0.8 -0.3 0.92 -0.14 1 0 C0.92 0.14 0.8 0.3 0.66 0.28 L0.66 0.36 C0.6 0.45 0.48 0.52 0.34 0.44 L0.3 0.52 C0.12 0.5 0.02 0.3 0 0 Z" fill="#5fbe48"/><path d="M0.04 0 L0.8 0" stroke="#3f9535" stroke-width="0.6" vector-effect="non-scaling-stroke" fill="none"/></g>
<g transform="translate(742.5 896.6) rotate(80.0) scale(12.0 7.0)"><path d="M0 0 C0.02 -0.3 0.12 -0.5 0.3 -0.52 L0.34 -0.44 C0.48 -0.52 0.6 -0.45 0.66 -0.36 L0.66 -0.28 C0.8 -0.3 0.92 -0.14 1 0 C0.92 0.14 0.8 0.3 0.66 0.28 L0.66 0.36 C0.6 0.45 0.48 0.52 0.34 0.44 L0.3 0.52 C0.12 0.5 0.02 0.3 0 0 Z" fill="#5fbe48"/><path d="M0.04 0 L0.8 0" stroke="#3f9535" stroke-width="0.6" vector-effect="non-scaling-stroke" fill="none"/></g>
<g transform="translate(761.5 891.8) rotate(60.0) scale(12.0 7.0)"><path d="M0 0 C0.02 -0.3 0.12 -0.5 0.3 -0.52 L0.34 -0.44 C0.48 -0.52 0.6 -0.45 0.66 -0.36 L0.66 -0.28 C0.8 -0.3 0.92 -0.14 1 0 C0.92 0.14 0.8 0.3 0.66 0.28 L0.66 0.36 C0.6 0.45 0.48 0.52 0.34 0.44 L0.3 0.52 C0.12 0.5 0.02 0.3 0 0 Z" fill="#5fbe48"/><path d="M0.04 0 L0.8 0" stroke="#3f9535" stroke-width="0.6" vector-effect="non-scaling-stroke" fill="none"/></g>
<ellipse cx="734.6" cy="848.0" rx="3.6" ry="3.6" fill="#b3d766"/>
<ellipse cx="734.6" cy="845.6" rx="1.3" ry="1.0" fill="#4f9e3c"/>
<ellipse cx="740.8" cy="855.3" rx="5.0" ry="4.8" fill="#b3d766"/>
<ellipse cx="740.8" cy="851.7" rx="1.8" ry="1.0" fill="#4f9e3c"/>
<ellipse cx="761.3" cy="844.9" rx="3.2" ry="3.0" fill="#b3d766"/>
<ellipse cx="761.3" cy="843.1" rx="1.1" ry="1.0" fill="#4f9e3c"/>
<ellipse cx="762.3" cy="851.0" rx="5.2" ry="4.8" fill="#b3d766"/>
<ellipse cx="762.3" cy="847.4" rx="1.8" ry="1.0" fill="#4f9e3c"/>
<ellipse cx="755.6" cy="857.2" rx="5.5" ry="4.6" fill="#b3d766"/>
<ellipse cx="755.6" cy="853.8" rx="1.9" ry="1.0" fill="#4f9e3c"/>
<ellipse cx="768.0" cy="869.5" rx="5.3" ry="5.0" fill="#b3d766"/>
<ellipse cx="768.0" cy="865.7" rx="1.9" ry="1.0" fill="#4f9e3c"/>
<ellipse cx="742.8" cy="877.7" rx="6.3" ry="4.8" fill="#b3d766"/>
<ellipse cx="742.8" cy="874.1" rx="2.2" ry="1.0" fill="#4f9e3c"/>
<ellipse cx="760.3" cy="877.7" rx="5.8" ry="4.3" fill="#b3d766"/>
<ellipse cx="760.3" cy="874.6" rx="2.0" ry="1.0" fill="#4f9e3c"/>
<ellipse cx="775.6" cy="881.3" rx="4.5" ry="4.2" fill="#b3d766"/>
<ellipse cx="775.6" cy="878.3" rx="1.6" ry="1.0" fill="#4f9e3c"/>
<ellipse cx="729.5" cy="882.8" rx="4.3" ry="4.0" fill="#b3d766"/>
<ellipse cx="729.5" cy="880.0" rx="1.5" ry="1.0" fill="#4f9e3c"/>
<ellipse cx="762.3" cy="892.0" rx="6.2" ry="4.8" fill="#b3d766"/>
<ellipse cx="762.3" cy="888.4" rx="2.2" ry="1.0" fill="#4f9e3c"/>
<ellipse cx="774.6" cy="892.0" rx="5.0" ry="4.0" fill="#b3d766"/>
<ellipse cx="774.6" cy="889.2" rx="1.8" ry="1.0" fill="#4f9e3c"/>
<ellipse cx="739.7" cy="897.2" rx="5.3" ry="4.2" fill="#b3d766"/>
<ellipse cx="739.7" cy="894.2" rx="1.9" ry="1.0" fill="#4f9e3c"/>
<ellipse cx="752.6" cy="898.7" rx="4.4" ry="4.2" fill="#b3d766"/>
<ellipse cx="752.6" cy="895.7" rx="1.5" ry="1.0" fill="#4f9e3c"/>
<ellipse cx="769.0" cy="899.7" rx="4.2" ry="4.0" fill="#b3d766"/>
<ellipse cx="769.0" cy="896.9" rx="1.5" ry="1.0" fill="#4f9e3c"/>
<path d="M752.5 1015.0 L751.5 974.0 L749.0 944.0 L752.0 924.0" fill="none" stroke="#4a9e3a" stroke-width="1.8" stroke-linecap="round" stroke-linejoin="round"/>
<path d="M751.0 964.0 L737.0 959.0 L727.0 954.0" fill="none" stroke="#4a9e3a" stroke-width="1.2" stroke-linecap="round" stroke-linejoin="round"/>
<path d="M751.5 969.0 L762.0 964.0 L772.0 959.0" fill="none" stroke="#4a9e3a" stroke-width="1.2" stroke-linecap="round" stroke-linejoin="round"/>
<path d="M752.0 992.0 L738.0 994.0 L724.0 999.0" fill="none" stroke="#4a9e3a" stroke-width="1.2" stroke-linecap="round" stroke-linejoin="round"/>
<path d="M752.0 989.0 L765.0 987.0 L775.0 989.0" fill="none" stroke="#4a9e3a" stroke-width="1.2" stroke-linecap="round" stroke-linejoin="round"/>
<g transform="translate(750.9 933.0) rotate(-70.0) scale(15.0 9.0)"><path d="M0 0 C0.02 -0.3 0.12 -0.5 0.3 -0.52 L0.34 -0.44 C0.48 -0.52 0.6 -0.45 0.66 -0.36 L0.66 -0.28 C0.8 -0.3 0.92 -0.14 1 0 C0.92 0.14 0.8 0.3 0.66 0.28 L0.66 0.36 C0.6 0.45 0.48 0.52 0.34 0.44 L0.3 0.52 C0.12 0.5 0.02 0.3 0 0 Z" fill="#5fbe48"/><path d="M0.04 0 L0.8 0" stroke="#3f9535" stroke-width="0.6" vector-effect="non-scaling-stroke" fill="none"/></g>
<g transform="translate(746.2 939.5) rotate(-140.0) scale(11.0 7.0)"><path d="M0 0 C0.02 -0.3 0.12 -0.5 0.3 -0.52 L0.34 -0.44 C0.48 -0.52 0.6 -0.45 0.66 -0.36 L0.66 -0.28 C0.8 -0.3 0.92 -0.14 1 0 C0.92 0.14 0.8 0.3 0.66 0.28 L0.66 0.36 C0.6 0.45 0.48 0.52 0.34 0.44 L0.3 0.52 C0.12 0.5 0.02 0.3 0 0 Z" fill="#5fbe48"/><path d="M0.04 0 L0.8 0" stroke="#3f9535" stroke-width="0.6" vector-effect="non-scaling-stroke" fill="none"/></g>
<g transform="translate(750.2 939.4) rotate(-15.0) scale(11.0 7.0)"><path d="M0 0 C0.02 -0.3 0.12 -0.5 0.3 -0.52 L0.34 -0.44 C0.48 -0.52 0.6 -0.45 0.66 -0.36 L0.66 -0.28 C0.8 -0.3 0.92 -0.14 1 0 C0.92 0.14 0.8 0.3 0.66 0.28 L0.66 0.36 C0.6 0.45 0.48 0.52 0.34 0.44 L0.3 0.52 C0.12 0.5 0.02 0.3 0 0 Z" fill="#5fbe48"/><path d="M0.04 0 L0.8 0" stroke="#3f9535" stroke-width="0.6" vector-effect="non-scaling-stroke" fill="none"/></g>
<g transform="translate(745.7 947.9) rotate(-160.0) scale(11.0 7.0)"><path d="M0 0 C0.02 -0.3 0.12 -0.5 0.3 -0.52 L0.34 -0.44 C0.48 -0.52 0.6 -0.45 0.66 -0.36 L0.66 -0.28 C0.8 -0.3 0.92 -0.14 1 0 C0.92 0.14 0.8 0.3 0.66 0.28 L0.66 0.36 C0.6 0.45 0.48 0.52 0.34 0.44 L0.3 0.52 C0.12 0.5 0.02 0.3 0 0 Z" fill="#5fbe48"/><path d="M0.04 0 L0.8 0" stroke="#3f9535" stroke-width="0.6" vector-effect="non-scaling-stroke" fill="none"/></g>
<g transform="translate(749.1 947.0) rotate(-10.0) scale(11.0 7.0)"><path d="M0 0 C0.02 -0.3 0.12 -0.5 0.3 -0.52 L0.34 -0.44 C0.48 -0.52 0.6 -0.45 0.66 -0.36 L0.66 -0.28 C0.8 -0.3 0.92 -0.14 1 0 C0.92 0.14 0.8 0.3 0.66 0.28 L0.66 0.36 C0.6 0.45 0.48 0.52 0.34 0.44 L0.3 0.52 C0.12 0.5 0.02 0.3 0 0 Z" fill="#5fbe48"/><path d="M0.04 0 L0.8 0" stroke="#3f9535" stroke-width="0.6" vector-effect="non-scaling-stroke" fill="none"/></g>
<g transform="translate(730.1 966.5) rotate(-110.0) scale(15.0 9.0)"><path d="M0 0 C0.02 -0.3 0.12 -0.5 0.3 -0.52 L0.34 -0.44 C0.48 -0.52 0.6 -0.45 0.66 -0.36 L0.66 -0.28 C0.8 -0.3 0.92 -0.14 1 0 C0.92 0.14 0.8 0.3 0.66 0.28 L0.66 0.36 C0.6 0.45 0.48 0.52 0.34 0.44 L0.3 0.52 C0.12 0.5 0.02 0.3 0 0 Z" fill="#5fbe48"/><path d="M0.04 0 L0.8 0" stroke="#3f9535" stroke-width="0.6" vector-effect="non-scaling-stroke" fill="none"/></g>
<g transform="translate(769.4 964.0) rotate(-70.0) scale(15.0 9.0)"><path d="M0 0 C0.02 -0.3 0.12 -0.5 0.3 -0.52 L0.34 -0.44 C0.48 -0.52 0.6 -0.45 0.66 -0.36 L0.66 -0.28 C0.8 -0.3 0.92 -0.14 1 0 C0.92 0.14 0.8 0.3 0.66 0.28 L0.66 0.36 C0.6 0.45 0.48 0.52 0.34 0.44 L0.3 0.52 C0.12 0.5 0.02 0.3 0 0 Z" fill="#5fbe48"/><path d="M0.04 0 L0.8 0" stroke="#3f9535" stroke-width="0.6" vector-effect="non-scaling-stroke" fill="none"/></g>
<g transform="translate(734.5 970.9) rotate(175.0) scale(14.0 8.0)"><path d="M0 0 C0.02 -0.3 0.12 -0.5 0.3 -0.52 L0.34 -0.44 C0.48 -0.52 0.6 -0.45 0.66 -0.36 L0.66 -0.28 C0.8 -0.3 0.92 -0.14 1 0 C0.92 0.14 0.8 0.3 0.66 0.28 L0.66 0.36 C0.6 0.45 0.48 0.52 0.34 0.44 L0.3 0.52 C0.12 0.5 0.02 0.3 0 0 Z" fill="#5fbe48"/><path d="M0.04 0 L0.8 0" stroke="#3f9535" stroke-width="0.6" vector-effect="non-scaling-stroke" fill="none"/></g>
<g transform="translate(733.7 963.3) rotate(40.0) scale(10.0 7.0)"><path d="M0 0 C0.02 -0.3 0.12 -0.5 0.3 -0.52 L0.34 -0.44 C0.48 -0.52 0.6 -0.45 0.66 -0.36 L0.66 -0.28 C0.8 -0.3 0.92 -0.14 1 0 C0.92 0.14 0.8 0.3 0.66 0.28 L0.66 0.36 C0.6 0.45 0.48 0.52 0.34 0.44 L0.3 0.52 C0.12 0.5 0.02 0.3 0 0 Z" fill="#5fbe48"/><path d="M0.04 0 L0.8 0" stroke="#3f9535" stroke-width="0.6" vector-effect="non-scaling-stroke" fill="none"/></g>
<g transform="translate(743.8 975.2) rotate(-70.0) scale(10.0 7.0)"><path d="M0 0 C0.02 -0.3 0.12 -0.5 0.3 -0.52 L0.34 -0.44 C0.48 -0.52 0.6 -0.45 0.66 -0.36 L0.66 -0.28 C0.8 -0.3 0.92 -0.14 1 0 C0.92 0.14 0.8 0.3 0.66 0.28 L0.66 0.36 C0.6 0.45 0.48 0.52 0.34 0.44 L0.3 0.52 C0.12 0.5 0.02 0.3 0 0 Z" fill="#5fbe48"/><path d="M0.04 0 L0.8 0" stroke="#3f9535" stroke-width="0.6" vector-effect="non-scaling-stroke" fill="none"/></g>
<g transform="translate(756.4 975.9) rotate(-100.0) scale(10.0 7.0)"><path d="M0 0 C0.02 -0.3 0.12 -0.5 0.3 -0.52 L0.34 -0.44 C0.48 -0.52 0.6 -0.45 0.66 -0.36 L0.66 -0.28 C0.8 -0.3 0.92 -0.14 1 0 C0.92 0.14 0.8 0.3 0.66 0.28 L0.66 0.36 C0.6 0.45 0.48 0.52 0.34 0.44 L0.3 0.52 C0.12 0.5 0.02 0.3 0 0 Z" fill="#5fbe48"/><path d="M0.04 0 L0.8 0" stroke="#3f9535" stroke-width="0.6" vector-effect="non-scaling-stroke" fill="none"/></g>
<g transform="translate(767.6 971.0) rotate(10.0) scale(12.0 7.0)"><path d="M0 0 C0.02 -0.3 0.12 -0.5 0.3 -0.52 L0.34 -0.44 C0.48 -0.52 0.6 -0.45 0.66 -0.36 L0.66 -0.28 C0.8 -0.3 0.92 -0.14 1 0 C0.92 0.14 0.8 0.3 0.66 0.28 L0.66 0.36 C0.6 0.45 0.48 0.52 0.34 0.44 L0.3 0.52 C0.12 0.5 0.02 0.3 0 0 Z" fill="#5fbe48"/><path d="M0.04 0 L0.8 0" stroke="#3f9535" stroke-width="0.6" vector-effect="non-scaling-stroke" fill="none"/></g>
<g transform="translate(740.3 977.2) rotate(150.0) scale(11.0 7.0)"><path d="M0 0 C0.02 -0.3 0.12 -0.5 0.3 -0.52 L0.34 -0.44 C0.48 -0.52 0.6 -0.45 0.66 -0.36 L0.66 -0.28 C0.8 -0.3 0.92 -0.14 1 0 C0.92 0.14 0.8 0.3 0.66 0.28 L0.66 0.36 C0.6 0.45 0.48 0.52 0.34 0.44 L0.3 0.52 C0.12 0.5 0.02 0.3 0 0 Z" fill="#5fbe48"/><path d="M0.04 0 L0.8 0" stroke="#3f9535" stroke-width="0.6" vector-effect="non-scaling-stroke" fill="none"/></g>
<g transform="translate(744.9 995.9) rotate(-100.0) scale(10.0 7.0)"><path d="M0 0 C0.02 -0.3 0.12 -0.5 0.3 -0.52 L0.34 -0.44 C0.48 -0.52 0.6 -0.45 0.66 -0.36 L0.66 -0.28 C0.8 -0.3 0.92 -0.14 1 0 C0.92 0.14 0.8 0.3 0.66 0.28 L0.66 0.36 C0.6 0.45 0.48 0.52 0.34 0.44 L0.3 0.52 C0.12 0.5 0.02 0.3 0 0 Z" fill="#5fbe48"/><path d="M0.04 0 L0.8 0" stroke="#3f9535" stroke-width="0.6" vector-effect="non-scaling-stroke" fill="none"/></g>
<g transform="translate(747.1 996.5) rotate(-85.0) scale(10.0 7.0)"><path d="M0 0 C0.02 -0.3 0.12 -0.5 0.3 -0.52 L0.34 -0.44 C0.48 -0.52 0.6 -0.45 0.66 -0.36 L0.66 -0.28 C0.8 -0.3 0.92 -0.14 1 0 C0.92 0.14 0.8 0.3 0.66 0.28 L0.66 0.36 C0.6 0.45 0.48 0.52 0.34 0.44 L0.3 0.52 C0.12 0.5 0.02 0.3 0 0 Z" fill="#5fbe48"/><path d="M0.04 0 L0.8 0" stroke="#3f9535" stroke-width="0.6" vector-effect="non-scaling-stroke" fill="none"/></g>
<g transform="translate(732.9 999.8) rotate(190.0) scale(15.0 9.0)"><path d="M0 0 C0.02 -0.3 0.12 -0.5 0.3 -0.52 L0.34 -0.44 C0.48 -0.52 0.6 -0.45 0.66 -0.36 L0.66 -0.28 C0.8 -0.3 0.92 -0.14 1 0 C0.92 0.14 0.8 0.3 0.66 0.28 L0.66 0.36 C0.6 0.45 0.48 0.52 0.34 0.44 L0.3 0.52 C0.12 0.5 0.02 0.3 0 0 Z" fill="#5fbe48"/><path d="M0.04 0 L0.8 0" stroke="#3f9535" stroke-width="0.6" vector-effect="non-scaling-stroke" fill="none"/></g>
<g transform="translate(736.6 998.9) rotate(110.0) scale(12.0 7.0)"><path d="M0 0 C0.02 -0.3 0.12 -0.5 0.3 -0.52 L0.34 -0.44 C0.48 -0.52 0.6 -0.45 0.66 -0.36 L0.66 -0.28 C0.8 -0.3 0.92 -0.14 1 0 C0.92 0.14 0.8 0.3 0.66 0.28 L0.66 0.36 C0.6 0.45 0.48 0.52 0.34 0.44 L0.3 0.52 C0.12 0.5 0.02 0.3 0 0 Z" fill="#5fbe48"/><path d="M0.04 0 L0.8 0" stroke="#3f9535" stroke-width="0.6" vector-effect="non-scaling-stroke" fill="none"/></g>
<g transform="translate(742.5 1000.6) rotate(80.0) scale(12.0 7.0)"><path d="M0 0 C0.02 -0.3 0.12 -0.5 0.3 -0.52 L0.34 -0.44 C0.48 -0.52 0.6 -0.45 0.66 -0.36 L0.66 -0.28 C0.8 -0.3 0.92 -0.14 1 0 C0.92 0.14 0.8 0.3 0.66 0.28 L0.66 0.36 C0.6 0.45 0.48 0.52 0.34 0.44 L0.3 0.52 C0.12 0.5 0.02 0.3 0 0 Z" fill="#5fbe48"/><path d="M0.04 0 L0.8 0" stroke="#3f9535" stroke-width="0.6" vector-effect="non-scaling-stroke" fill="none"/></g>
<g transform="translate(761.5 995.8) rotate(60.0) scale(12.0 7.0)"><path d="M0 0 C0.02 -0.3 0.12 -0.5 0.3 -0.52 L0.34 -0.44 C0.48 -0.52 0.6 -0.45 0.66 -0.36 L0.66 -0.28 C0.8 -0.3 0.92 -0.14 1 0 C0.92 0.14 0.8 0.3 0.66 0.28 L0.66 0.36 C0.6 0.45 0.48 0.52 0.34 0.44 L0.3 0.52 C0.12 0.5 0.02 0.3 0 0 Z" fill="#5fbe48"/><path d="M0.04 0 L0.8 0" stroke="#3f9535" stroke-width="0.6" vector-effect="non-scaling-stroke" fill="none"/></g>
<ellipse cx="733.1" cy="951.3" rx="3.6" ry="3.6" fill="#f0532f"/>
<ellipse cx="733.1" cy="948.9" rx="1.3" ry="1.0" fill="#3f8f30"/>
<ellipse cx="759.9" cy="948.1" rx="3.4" ry="3.2" fill="#f0532f"/>
<ellipse cx="759.9" cy="946.1" rx="1.2" ry="1.0" fill="#3f8f30"/>
<ellipse cx="761.5" cy="955.1" rx="5.2" ry="5.2" fill="#f0532f"/>
<ellipse cx="761.5" cy="951.1" rx="1.8" ry="1.0" fill="#3f8f30"/>
<ellipse cx="739.0" cy="960.5" rx="7.0" ry="6.2" fill="#f0532f"/>
<ellipse cx="739.0" cy="955.5" rx="2.4" ry="1.0" fill="#3f8f30"/>
<ellipse cx="755.1" cy="963.7" rx="8.3" ry="6.6" fill="#f0532f"/>
<ellipse cx="755.1" cy="958.3" rx="2.9" ry="1.0" fill="#3f8f30"/>
<ellipse cx="768.5" cy="975.0" rx="6.4" ry="6.3" fill="#f0532f"/>
<ellipse cx="768.5" cy="969.9" rx="2.2" ry="1.0" fill="#3f8f30"/>
<ellipse cx="740.6" cy="983.0" rx="7.8" ry="6.6" fill="#f0532f"/>
<ellipse cx="740.6" cy="977.6" rx="2.7" ry="1.0" fill="#3f8f30"/>
<ellipse cx="759.4" cy="984.6" rx="8.6" ry="6.6" fill="#f0532f"/>
<ellipse cx="759.4" cy="979.2" rx="3.0" ry="1.0" fill="#3f8f30"/>
<ellipse cx="728.3" cy="987.9" rx="4.5" ry="4.1" fill="#f0532f"/>
<ellipse cx="728.3" cy="985.0" rx="1.6" ry="1.0" fill="#3f8f30"/>
<ellipse cx="775.0" cy="986.2" rx="4.2" ry="4.4" fill="#f0532f"/>
<ellipse cx="775.0" cy="983.0" rx="1.5" ry="1.0" fill="#3f8f30"/>
<ellipse cx="741.1" cy="1000.2" rx="7.5" ry="6.0" fill="#f0532f"/>
<ellipse cx="741.1" cy="995.4" rx="2.6" ry="1.0" fill="#3f8f30"/>
<ellipse cx="759.4" cy="1000.7" rx="7.5" ry="6.2" fill="#f0532f"/>
<ellipse cx="759.4" cy="995.7" rx="2.6" ry="1.0" fill="#3f8f30"/>
<ellipse cx="771.7" cy="996.4" rx="5.0" ry="4.0" fill="#f0532f"/>
<ellipse cx="771.7" cy="993.6" rx="1.8" ry="1.0" fill="#3f8f30"/>
</svg>
</body></html>
